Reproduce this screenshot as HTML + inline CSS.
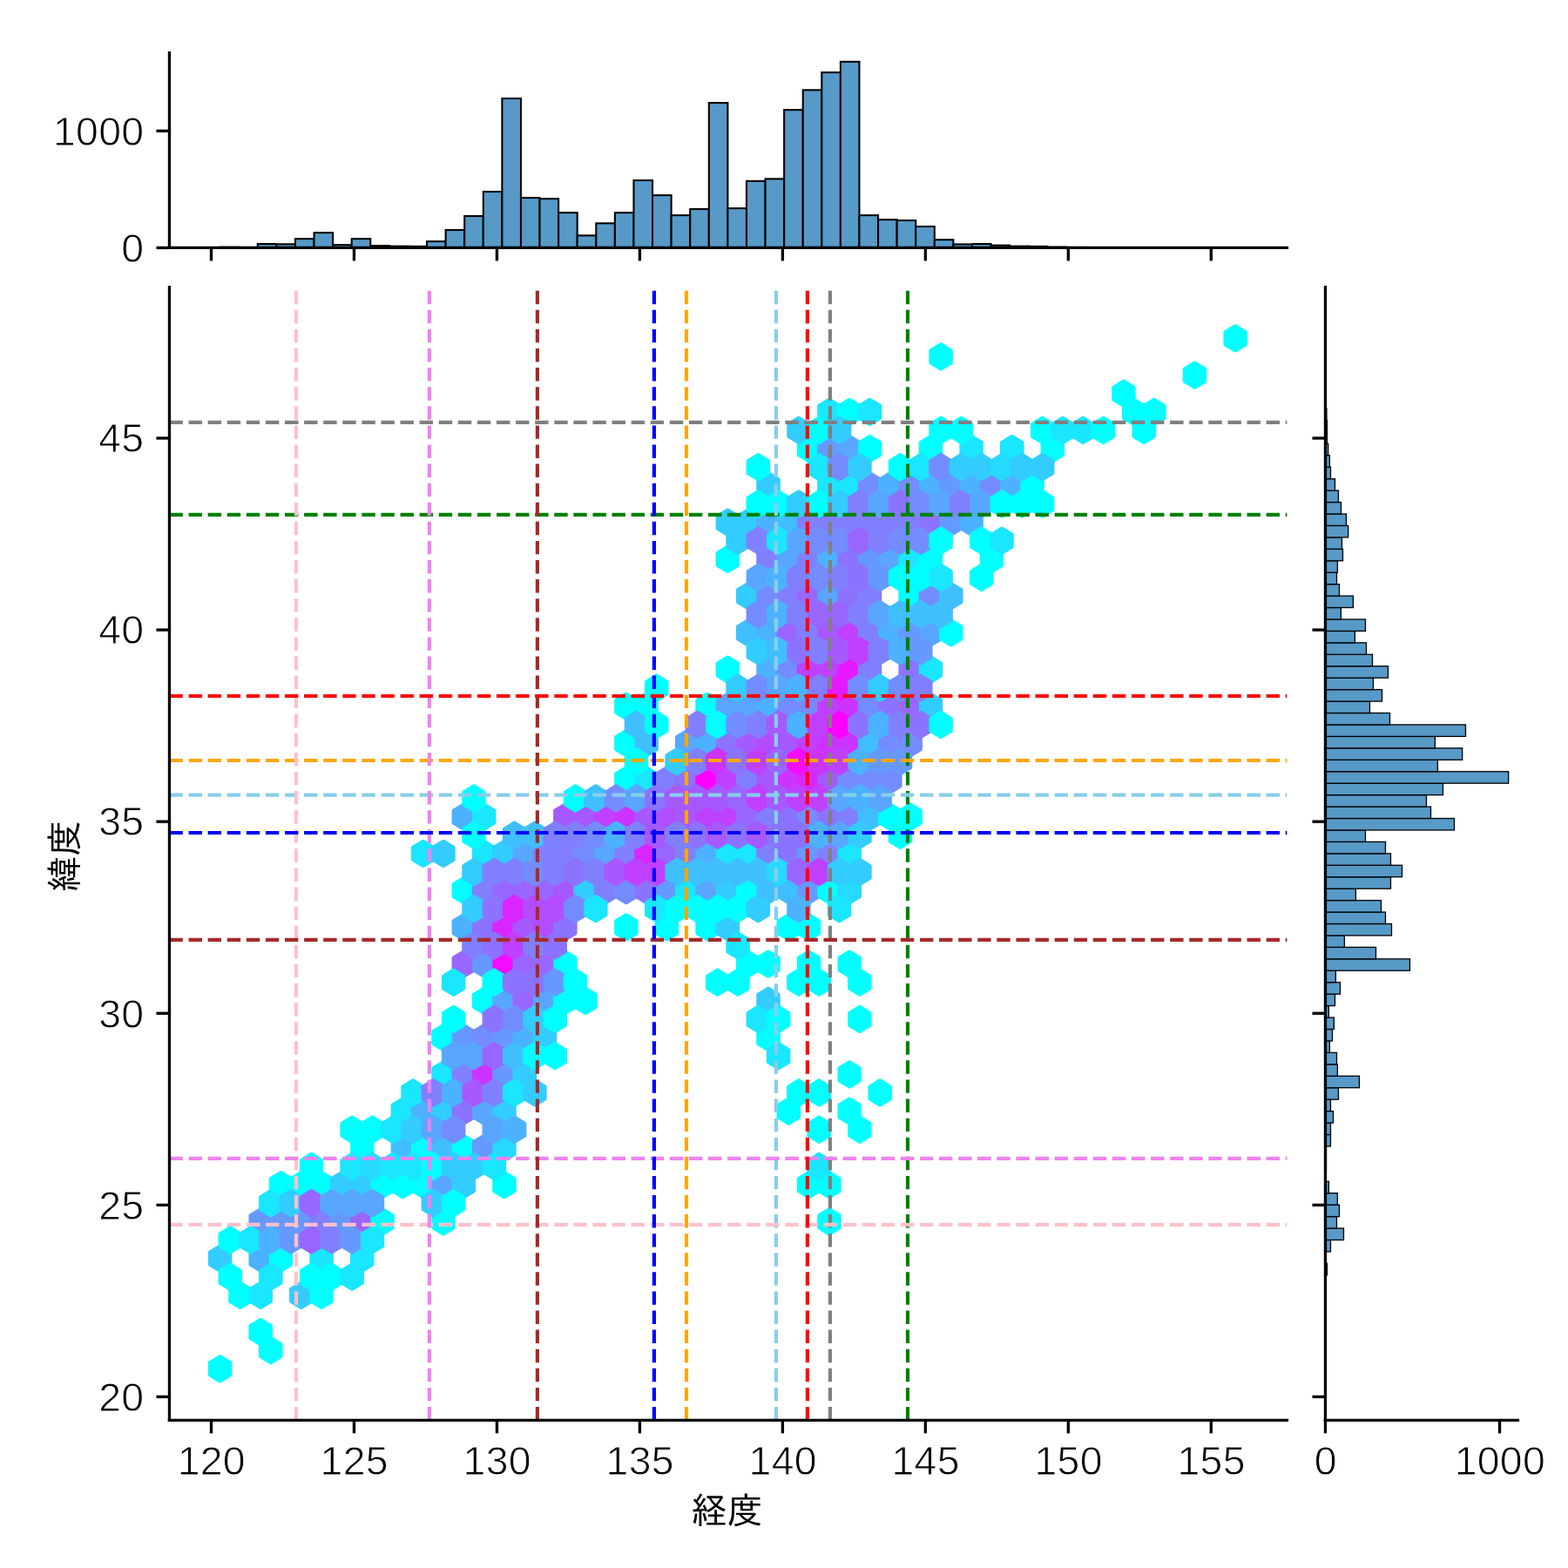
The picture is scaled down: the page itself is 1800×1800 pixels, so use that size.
<!DOCTYPE html>
<html lang="ja"><head><meta charset="utf-8"><title>経度 / 緯度</title>
<style>html,body{margin:0;padding:0;background:#fff;overflow:hidden}svg{display:block}</style></head>
<body>
<svg width="1800" height="1800" viewBox="0 0 1800 1800">
<rect width="1800" height="1800" fill="#ffffff"/>
<g stroke-width="4.17" stroke-linejoin="round">
<polygon points="264.27,1564.29 264.27,1578.37 252.61,1585.41 240.95,1578.37 240.95,1564.29 252.61,1557.25" fill="#00ffff" stroke="#00ffff"/>
<polygon points="264.27,1437.54 264.27,1451.62 252.61,1458.66 240.95,1451.62 240.95,1437.54 252.61,1430.50" fill="#33ccff" stroke="#33ccff"/>
<polygon points="287.58,1479.79 287.58,1493.87 275.92,1500.91 264.27,1493.87 264.27,1479.79 275.92,1472.75" fill="#00ffff" stroke="#00ffff"/>
<polygon points="310.89,1522.04 310.89,1536.12 299.23,1543.16 287.58,1536.12 287.58,1522.04 299.23,1515.00" fill="#00ffff" stroke="#00ffff"/>
<polygon points="310.89,1479.79 310.89,1493.87 299.23,1500.91 287.58,1493.87 287.58,1479.79 299.23,1472.75" fill="#1ae6ff" stroke="#1ae6ff"/>
<polygon points="310.89,1437.54 310.89,1451.62 299.23,1458.66 287.58,1451.62 287.58,1437.54 299.23,1430.50" fill="#4cb2ff" stroke="#4cb2ff"/>
<polygon points="310.89,1395.29 310.89,1409.37 299.23,1416.41 287.58,1409.37 287.58,1395.29 299.23,1388.25" fill="#6699ff" stroke="#6699ff"/>
<polygon points="334.20,1437.54 334.20,1451.62 322.54,1458.66 310.89,1451.62 310.89,1437.54 322.54,1430.50" fill="#00ffff" stroke="#00ffff"/>
<polygon points="334.20,1395.29 334.20,1409.37 322.54,1416.41 310.89,1409.37 310.89,1395.29 322.54,1388.25" fill="#6699ff" stroke="#6699ff"/>
<polygon points="334.20,1353.04 334.20,1367.12 322.54,1374.16 310.89,1367.12 310.89,1353.04 322.54,1346.00" fill="#00ffff" stroke="#00ffff"/>
<polygon points="357.51,1479.79 357.51,1493.87 345.85,1500.91 334.20,1493.87 334.20,1479.79 345.85,1472.75" fill="#33ccff" stroke="#33ccff"/>
<polygon points="357.51,1395.29 357.51,1409.37 345.85,1416.41 334.20,1409.37 334.20,1395.29 345.85,1388.25" fill="#6699ff" stroke="#6699ff"/>
<polygon points="357.51,1353.04 357.51,1367.12 345.85,1374.16 334.20,1367.12 334.20,1353.04 345.85,1346.00" fill="#00ffff" stroke="#00ffff"/>
<polygon points="380.82,1479.79 380.82,1493.87 369.17,1500.91 357.51,1493.87 357.51,1479.79 369.17,1472.75" fill="#00ffff" stroke="#00ffff"/>
<polygon points="380.82,1437.54 380.82,1451.62 369.17,1458.66 357.51,1451.62 357.51,1437.54 369.17,1430.50" fill="#1ae6ff" stroke="#1ae6ff"/>
<polygon points="380.82,1395.29 380.82,1409.37 369.17,1416.41 357.51,1409.37 357.51,1395.29 369.17,1388.25" fill="#8080ff" stroke="#8080ff"/>
<polygon points="380.82,1353.04 380.82,1367.12 369.17,1374.16 357.51,1367.12 357.51,1353.04 369.17,1346.00" fill="#00ffff" stroke="#00ffff"/>
<polygon points="404.13,1395.29 404.13,1409.37 392.48,1416.41 380.82,1409.37 380.82,1395.29 392.48,1388.25" fill="#6699ff" stroke="#6699ff"/>
<polygon points="404.13,1353.04 404.13,1367.12 392.48,1374.16 380.82,1367.12 380.82,1353.04 392.48,1346.00" fill="#33ccff" stroke="#33ccff"/>
<polygon points="427.44,1437.54 427.44,1451.62 415.79,1458.66 404.13,1451.62 404.13,1437.54 415.79,1430.50" fill="#1ae6ff" stroke="#1ae6ff"/>
<polygon points="427.44,1395.29 427.44,1409.37 415.79,1416.41 404.13,1409.37 404.13,1395.29 415.79,1388.25" fill="#9966ff" stroke="#9966ff"/>
<polygon points="427.44,1353.04 427.44,1367.12 415.79,1374.16 404.13,1367.12 404.13,1353.04 415.79,1346.00" fill="#33ccff" stroke="#33ccff"/>
<polygon points="427.44,1310.79 427.44,1324.87 415.79,1331.91 404.13,1324.87 404.13,1310.79 415.79,1303.75" fill="#00ffff" stroke="#00ffff"/>
<polygon points="450.76,1395.29 450.76,1409.37 439.10,1416.41 427.44,1409.37 427.44,1395.29 439.10,1388.25" fill="#00ffff" stroke="#00ffff"/>
<polygon points="450.76,1353.04 450.76,1367.12 439.10,1374.16 427.44,1367.12 427.44,1353.04 439.10,1346.00" fill="#00ffff" stroke="#00ffff"/>
<polygon points="474.07,1353.04 474.07,1367.12 462.41,1374.16 450.76,1367.12 450.76,1353.04 462.41,1346.00" fill="#00ffff" stroke="#00ffff"/>
<polygon points="474.07,1310.79 474.07,1324.87 462.41,1331.91 450.76,1324.87 450.76,1310.79 462.41,1303.75" fill="#40bfff" stroke="#40bfff"/>
<polygon points="474.07,1268.54 474.07,1282.62 462.41,1289.66 450.76,1282.62 450.76,1268.54 462.41,1261.50" fill="#1ae6ff" stroke="#1ae6ff"/>
<polygon points="497.38,1353.04 497.38,1367.12 485.72,1374.16 474.07,1367.12 474.07,1353.04 485.72,1346.00" fill="#00ffff" stroke="#00ffff"/>
<polygon points="497.38,1310.79 497.38,1324.87 485.72,1331.91 474.07,1324.87 474.07,1310.79 485.72,1303.75" fill="#00ffff" stroke="#00ffff"/>
<polygon points="497.38,1268.54 497.38,1282.62 485.72,1289.66 474.07,1282.62 474.07,1268.54 485.72,1261.50" fill="#4cb2ff" stroke="#4cb2ff"/>
<polygon points="497.38,972.79 497.38,986.87 485.72,993.91 474.07,986.87 474.07,972.79 485.72,965.75" fill="#1ae6ff" stroke="#1ae6ff"/>
<polygon points="520.69,1395.29 520.69,1409.37 509.03,1416.41 497.38,1409.37 497.38,1395.29 509.03,1388.25" fill="#00ffff" stroke="#00ffff"/>
<polygon points="520.69,1353.04 520.69,1367.12 509.03,1374.16 497.38,1367.12 497.38,1353.04 509.03,1346.00" fill="#59a6ff" stroke="#59a6ff"/>
<polygon points="520.69,1310.79 520.69,1324.87 509.03,1331.91 497.38,1324.87 497.38,1310.79 509.03,1303.75" fill="#40bfff" stroke="#40bfff"/>
<polygon points="520.69,1268.54 520.69,1282.62 509.03,1289.66 497.38,1282.62 497.38,1268.54 509.03,1261.50" fill="#33ccff" stroke="#33ccff"/>
<polygon points="520.69,1226.29 520.69,1240.37 509.03,1247.41 497.38,1240.37 497.38,1226.29 509.03,1219.25" fill="#1ae6ff" stroke="#1ae6ff"/>
<polygon points="520.69,1184.04 520.69,1198.12 509.03,1205.16 497.38,1198.12 497.38,1184.04 509.03,1177.00" fill="#00ffff" stroke="#00ffff"/>
<polygon points="520.69,972.79 520.69,986.87 509.03,993.91 497.38,986.87 497.38,972.79 509.03,965.75" fill="#33ccff" stroke="#33ccff"/>
<polygon points="544.00,1353.04 544.00,1367.12 532.34,1374.16 520.69,1367.12 520.69,1353.04 532.34,1346.00" fill="#33ccff" stroke="#33ccff"/>
<polygon points="544.00,1310.79 544.00,1324.87 532.34,1331.91 520.69,1324.87 520.69,1310.79 532.34,1303.75" fill="#00ffff" stroke="#00ffff"/>
<polygon points="544.00,1268.54 544.00,1282.62 532.34,1289.66 520.69,1282.62 520.69,1268.54 532.34,1261.50" fill="#8c73ff" stroke="#8c73ff"/>
<polygon points="544.00,1226.29 544.00,1240.37 532.34,1247.41 520.69,1240.37 520.69,1226.29 532.34,1219.25" fill="#8080ff" stroke="#8080ff"/>
<polygon points="544.00,1184.04 544.00,1198.12 532.34,1205.16 520.69,1198.12 520.69,1184.04 532.34,1177.00" fill="#6699ff" stroke="#6699ff"/>
<polygon points="544.00,1099.54 544.00,1113.62 532.34,1120.66 520.69,1113.62 520.69,1099.54 532.34,1092.50" fill="#9966ff" stroke="#9966ff"/>
<polygon points="544.00,1057.29 544.00,1071.37 532.34,1078.41 520.69,1071.37 520.69,1057.29 532.34,1050.25" fill="#4cb2ff" stroke="#4cb2ff"/>
<polygon points="544.00,1015.04 544.00,1029.12 532.34,1036.16 520.69,1029.12 520.69,1015.04 532.34,1008.00" fill="#00ffff" stroke="#00ffff"/>
<polygon points="544.00,930.54 544.00,944.62 532.34,951.66 520.69,944.62 520.69,930.54 532.34,923.50" fill="#4cb2ff" stroke="#4cb2ff"/>
<polygon points="567.31,1310.79 567.31,1324.87 555.66,1331.91 544.00,1324.87 544.00,1310.79 555.66,1303.75" fill="#6699ff" stroke="#6699ff"/>
<polygon points="567.31,1268.54 567.31,1282.62 555.66,1289.66 544.00,1282.62 544.00,1268.54 555.66,1261.50" fill="#59a6ff" stroke="#59a6ff"/>
<polygon points="567.31,1226.29 567.31,1240.37 555.66,1247.41 544.00,1240.37 544.00,1226.29 555.66,1219.25" fill="#cc33ff" stroke="#cc33ff"/>
<polygon points="567.31,1184.04 567.31,1198.12 555.66,1205.16 544.00,1198.12 544.00,1184.04 555.66,1177.00" fill="#738cff" stroke="#738cff"/>
<polygon points="567.31,1141.79 567.31,1155.87 555.66,1162.91 544.00,1155.87 544.00,1141.79 555.66,1134.75" fill="#00ffff" stroke="#00ffff"/>
<polygon points="567.31,1099.54 567.31,1113.62 555.66,1120.66 544.00,1113.62 544.00,1099.54 555.66,1092.50" fill="#6699ff" stroke="#6699ff"/>
<polygon points="567.31,1057.29 567.31,1071.37 555.66,1078.41 544.00,1071.37 544.00,1057.29 555.66,1050.25" fill="#8c73ff" stroke="#8c73ff"/>
<polygon points="567.31,1015.04 567.31,1029.12 555.66,1036.16 544.00,1029.12 544.00,1015.04 555.66,1008.00" fill="#8080ff" stroke="#8080ff"/>
<polygon points="567.31,972.79 567.31,986.87 555.66,993.91 544.00,986.87 544.00,972.79 555.66,965.75" fill="#1ae6ff" stroke="#1ae6ff"/>
<polygon points="567.31,930.54 567.31,944.62 555.66,951.66 544.00,944.62 544.00,930.54 555.66,923.50" fill="#1ae6ff" stroke="#1ae6ff"/>
<polygon points="590.62,1353.04 590.62,1367.12 578.97,1374.16 567.31,1367.12 567.31,1353.04 578.97,1346.00" fill="#00ffff" stroke="#00ffff"/>
<polygon points="590.62,1310.79 590.62,1324.87 578.97,1331.91 567.31,1324.87 567.31,1310.79 578.97,1303.75" fill="#26d9ff" stroke="#26d9ff"/>
<polygon points="590.62,1268.54 590.62,1282.62 578.97,1289.66 567.31,1282.62 567.31,1268.54 578.97,1261.50" fill="#33ccff" stroke="#33ccff"/>
<polygon points="590.62,1226.29 590.62,1240.37 578.97,1247.41 567.31,1240.37 567.31,1226.29 578.97,1219.25" fill="#6699ff" stroke="#6699ff"/>
<polygon points="590.62,1184.04 590.62,1198.12 578.97,1205.16 567.31,1198.12 567.31,1184.04 578.97,1177.00" fill="#6699ff" stroke="#6699ff"/>
<polygon points="590.62,1141.79 590.62,1155.87 578.97,1162.91 567.31,1155.87 567.31,1141.79 578.97,1134.75" fill="#59a6ff" stroke="#59a6ff"/>
<polygon points="590.62,1099.54 590.62,1113.62 578.97,1120.66 567.31,1113.62 567.31,1099.54 578.97,1092.50" fill="#f20dff" stroke="#f20dff"/>
<polygon points="590.62,1057.29 590.62,1071.37 578.97,1078.41 567.31,1071.37 567.31,1057.29 578.97,1050.25" fill="#d926ff" stroke="#d926ff"/>
<polygon points="590.62,1015.04 590.62,1029.12 578.97,1036.16 567.31,1029.12 567.31,1015.04 578.97,1008.00" fill="#9966ff" stroke="#9966ff"/>
<polygon points="590.62,972.79 590.62,986.87 578.97,993.91 567.31,986.87 567.31,972.79 578.97,965.75" fill="#33ccff" stroke="#33ccff"/>
<polygon points="613.93,1226.29 613.93,1240.37 602.28,1247.41 590.62,1240.37 590.62,1226.29 602.28,1219.25" fill="#33ccff" stroke="#33ccff"/>
<polygon points="613.93,1184.04 613.93,1198.12 602.28,1205.16 590.62,1198.12 590.62,1184.04 602.28,1177.00" fill="#4cb2ff" stroke="#4cb2ff"/>
<polygon points="613.93,1141.79 613.93,1155.87 602.28,1162.91 590.62,1155.87 590.62,1141.79 602.28,1134.75" fill="#9966ff" stroke="#9966ff"/>
<polygon points="613.93,1099.54 613.93,1113.62 602.28,1120.66 590.62,1113.62 590.62,1099.54 602.28,1092.50" fill="#9966ff" stroke="#9966ff"/>
<polygon points="613.93,1057.29 613.93,1071.37 602.28,1078.41 590.62,1071.37 590.62,1057.29 602.28,1050.25" fill="#a659ff" stroke="#a659ff"/>
<polygon points="613.93,1015.04 613.93,1029.12 602.28,1036.16 590.62,1029.12 590.62,1015.04 602.28,1008.00" fill="#9966ff" stroke="#9966ff"/>
<polygon points="613.93,972.79 613.93,986.87 602.28,993.91 590.62,986.87 590.62,972.79 602.28,965.75" fill="#59a6ff" stroke="#59a6ff"/>
<polygon points="637.24,1184.04 637.24,1198.12 625.59,1205.16 613.93,1198.12 613.93,1184.04 625.59,1177.00" fill="#33ccff" stroke="#33ccff"/>
<polygon points="637.24,1141.79 637.24,1155.87 625.59,1162.91 613.93,1155.87 613.93,1141.79 625.59,1134.75" fill="#59a6ff" stroke="#59a6ff"/>
<polygon points="637.24,1099.54 637.24,1113.62 625.59,1120.66 613.93,1113.62 613.93,1099.54 625.59,1092.50" fill="#9966ff" stroke="#9966ff"/>
<polygon points="637.24,1057.29 637.24,1071.37 625.59,1078.41 613.93,1071.37 613.93,1057.29 625.59,1050.25" fill="#b24dff" stroke="#b24dff"/>
<polygon points="637.24,1015.04 637.24,1029.12 625.59,1036.16 613.93,1029.12 613.93,1015.04 625.59,1008.00" fill="#9966ff" stroke="#9966ff"/>
<polygon points="637.24,972.79 637.24,986.87 625.59,993.91 613.93,986.87 613.93,972.79 625.59,965.75" fill="#8080ff" stroke="#8080ff"/>
<polygon points="660.56,1141.79 660.56,1155.87 648.90,1162.91 637.24,1155.87 637.24,1141.79 648.90,1134.75" fill="#00ffff" stroke="#00ffff"/>
<polygon points="660.56,1099.54 660.56,1113.62 648.90,1120.66 637.24,1113.62 637.24,1099.54 648.90,1092.50" fill="#00ffff" stroke="#00ffff"/>
<polygon points="660.56,1057.29 660.56,1071.37 648.90,1078.41 637.24,1071.37 637.24,1057.29 648.90,1050.25" fill="#8c73ff" stroke="#8c73ff"/>
<polygon points="660.56,1015.04 660.56,1029.12 648.90,1036.16 637.24,1029.12 637.24,1015.04 648.90,1008.00" fill="#a659ff" stroke="#a659ff"/>
<polygon points="660.56,972.79 660.56,986.87 648.90,993.91 637.24,986.87 637.24,972.79 648.90,965.75" fill="#8080ff" stroke="#8080ff"/>
<polygon points="660.56,930.54 660.56,944.62 648.90,951.66 637.24,944.62 637.24,930.54 648.90,923.50" fill="#a659ff" stroke="#a659ff"/>
<polygon points="683.87,1141.79 683.87,1155.87 672.21,1162.91 660.56,1155.87 660.56,1141.79 672.21,1134.75" fill="#00ffff" stroke="#00ffff"/>
<polygon points="683.87,1015.04 683.87,1029.12 672.21,1036.16 660.56,1029.12 660.56,1015.04 672.21,1008.00" fill="#33ccff" stroke="#33ccff"/>
<polygon points="683.87,972.79 683.87,986.87 672.21,993.91 660.56,986.87 660.56,972.79 672.21,965.75" fill="#738cff" stroke="#738cff"/>
<polygon points="683.87,930.54 683.87,944.62 672.21,951.66 660.56,944.62 660.56,930.54 672.21,923.50" fill="#a659ff" stroke="#a659ff"/>
<polygon points="707.18,1015.04 707.18,1029.12 695.52,1036.16 683.87,1029.12 683.87,1015.04 695.52,1008.00" fill="#8080ff" stroke="#8080ff"/>
<polygon points="707.18,972.79 707.18,986.87 695.52,993.91 683.87,986.87 683.87,972.79 695.52,965.75" fill="#59a6ff" stroke="#59a6ff"/>
<polygon points="707.18,930.54 707.18,944.62 695.52,951.66 683.87,944.62 683.87,930.54 695.52,923.50" fill="#bf40ff" stroke="#bf40ff"/>
<polygon points="730.49,1057.29 730.49,1071.37 718.83,1078.41 707.18,1071.37 707.18,1057.29 718.83,1050.25" fill="#00ffff" stroke="#00ffff"/>
<polygon points="730.49,1015.04 730.49,1029.12 718.83,1036.16 707.18,1029.12 707.18,1015.04 718.83,1008.00" fill="#738cff" stroke="#738cff"/>
<polygon points="730.49,972.79 730.49,986.87 718.83,993.91 707.18,986.87 707.18,972.79 718.83,965.75" fill="#8080ff" stroke="#8080ff"/>
<polygon points="730.49,930.54 730.49,944.62 718.83,951.66 707.18,944.62 707.18,930.54 718.83,923.50" fill="#cc33ff" stroke="#cc33ff"/>
<polygon points="730.49,888.29 730.49,902.37 718.83,909.41 707.18,902.37 707.18,888.29 718.83,881.25" fill="#00ffff" stroke="#00ffff"/>
<polygon points="730.49,846.04 730.49,860.12 718.83,867.16 707.18,860.12 707.18,846.04 718.83,839.00" fill="#00ffff" stroke="#00ffff"/>
<polygon points="730.49,803.79 730.49,817.87 718.83,824.91 707.18,817.87 707.18,803.79 718.83,796.75" fill="#00ffff" stroke="#00ffff"/>
<polygon points="753.80,1015.04 753.80,1029.12 742.15,1036.16 730.49,1029.12 730.49,1015.04 742.15,1008.00" fill="#8c73ff" stroke="#8c73ff"/>
<polygon points="753.80,972.79 753.80,986.87 742.15,993.91 730.49,986.87 730.49,972.79 742.15,965.75" fill="#d926ff" stroke="#d926ff"/>
<polygon points="753.80,930.54 753.80,944.62 742.15,951.66 730.49,944.62 730.49,930.54 742.15,923.50" fill="#a659ff" stroke="#a659ff"/>
<polygon points="753.80,888.29 753.80,902.37 742.15,909.41 730.49,902.37 730.49,888.29 742.15,881.25" fill="#1ae6ff" stroke="#1ae6ff"/>
<polygon points="753.80,846.04 753.80,860.12 742.15,867.16 730.49,860.12 730.49,846.04 742.15,839.00" fill="#40bfff" stroke="#40bfff"/>
<polygon points="753.80,803.79 753.80,817.87 742.15,824.91 730.49,817.87 730.49,803.79 742.15,796.75" fill="#00ffff" stroke="#00ffff"/>
<polygon points="777.11,1057.29 777.11,1071.37 765.46,1078.41 753.80,1071.37 753.80,1057.29 765.46,1050.25" fill="#00ffff" stroke="#00ffff"/>
<polygon points="777.11,1015.04 777.11,1029.12 765.46,1036.16 753.80,1029.12 753.80,1015.04 765.46,1008.00" fill="#6699ff" stroke="#6699ff"/>
<polygon points="777.11,972.79 777.11,986.87 765.46,993.91 753.80,986.87 753.80,972.79 765.46,965.75" fill="#9966ff" stroke="#9966ff"/>
<polygon points="777.11,930.54 777.11,944.62 765.46,951.66 753.80,944.62 753.80,930.54 765.46,923.50" fill="#b24dff" stroke="#b24dff"/>
<polygon points="777.11,888.29 777.11,902.37 765.46,909.41 753.80,902.37 753.80,888.29 765.46,881.25" fill="#8080ff" stroke="#8080ff"/>
<polygon points="800.42,1015.04 800.42,1029.12 788.77,1036.16 777.11,1029.12 777.11,1015.04 788.77,1008.00" fill="#1ae6ff" stroke="#1ae6ff"/>
<polygon points="800.42,972.79 800.42,986.87 788.77,993.91 777.11,986.87 777.11,972.79 788.77,965.75" fill="#8080ff" stroke="#8080ff"/>
<polygon points="800.42,930.54 800.42,944.62 788.77,951.66 777.11,944.62 777.11,930.54 788.77,923.50" fill="#a659ff" stroke="#a659ff"/>
<polygon points="800.42,888.29 800.42,902.37 788.77,909.41 777.11,902.37 777.11,888.29 788.77,881.25" fill="#8c73ff" stroke="#8c73ff"/>
<polygon points="800.42,846.04 800.42,860.12 788.77,867.16 777.11,860.12 777.11,846.04 788.77,839.00" fill="#59a6ff" stroke="#59a6ff"/>
<polygon points="823.73,1057.29 823.73,1071.37 812.08,1078.41 800.42,1071.37 800.42,1057.29 812.08,1050.25" fill="#00ffff" stroke="#00ffff"/>
<polygon points="823.73,1015.04 823.73,1029.12 812.08,1036.16 800.42,1029.12 800.42,1015.04 812.08,1008.00" fill="#59a6ff" stroke="#59a6ff"/>
<polygon points="823.73,972.79 823.73,986.87 812.08,993.91 800.42,986.87 800.42,972.79 812.08,965.75" fill="#4cb2ff" stroke="#4cb2ff"/>
<polygon points="823.73,930.54 823.73,944.62 812.08,951.66 800.42,944.62 800.42,930.54 812.08,923.50" fill="#bf40ff" stroke="#bf40ff"/>
<polygon points="823.73,888.29 823.73,902.37 812.08,909.41 800.42,902.37 800.42,888.29 812.08,881.25" fill="#ff00ff" stroke="#ff00ff"/>
<polygon points="823.73,846.04 823.73,860.12 812.08,867.16 800.42,860.12 800.42,846.04 812.08,839.00" fill="#4cb2ff" stroke="#4cb2ff"/>
<polygon points="823.73,803.79 823.73,817.87 812.08,824.91 800.42,817.87 800.42,803.79 812.08,796.75" fill="#00ffff" stroke="#00ffff"/>
<polygon points="847.05,1057.29 847.05,1071.37 835.39,1078.41 823.73,1071.37 823.73,1057.29 835.39,1050.25" fill="#33ccff" stroke="#33ccff"/>
<polygon points="847.05,1015.04 847.05,1029.12 835.39,1036.16 823.73,1029.12 823.73,1015.04 835.39,1008.00" fill="#33ccff" stroke="#33ccff"/>
<polygon points="847.05,972.79 847.05,986.87 835.39,993.91 823.73,986.87 823.73,972.79 835.39,965.75" fill="#1ae6ff" stroke="#1ae6ff"/>
<polygon points="847.05,930.54 847.05,944.62 835.39,951.66 823.73,944.62 823.73,930.54 835.39,923.50" fill="#bf40ff" stroke="#bf40ff"/>
<polygon points="847.05,888.29 847.05,902.37 835.39,909.41 823.73,902.37 823.73,888.29 835.39,881.25" fill="#bf40ff" stroke="#bf40ff"/>
<polygon points="847.05,846.04 847.05,860.12 835.39,867.16 823.73,860.12 823.73,846.04 835.39,839.00" fill="#8c73ff" stroke="#8c73ff"/>
<polygon points="847.05,803.79 847.05,817.87 835.39,824.91 823.73,817.87 823.73,803.79 835.39,796.75" fill="#59a6ff" stroke="#59a6ff"/>
<polygon points="847.05,761.54 847.05,775.62 835.39,782.66 823.73,775.62 823.73,761.54 835.39,754.50" fill="#00ffff" stroke="#00ffff"/>
<polygon points="847.05,634.79 847.05,648.87 835.39,655.91 823.73,648.87 823.73,634.79 835.39,627.75" fill="#00ffff" stroke="#00ffff"/>
<polygon points="847.05,592.54 847.05,606.62 835.39,613.66 823.73,606.62 823.73,592.54 835.39,585.50" fill="#33ccff" stroke="#33ccff"/>
<polygon points="870.36,1099.54 870.36,1113.62 858.70,1120.66 847.05,1113.62 847.05,1099.54 858.70,1092.50" fill="#00ffff" stroke="#00ffff"/>
<polygon points="870.36,1015.04 870.36,1029.12 858.70,1036.16 847.05,1029.12 847.05,1015.04 858.70,1008.00" fill="#00ffff" stroke="#00ffff"/>
<polygon points="870.36,972.79 870.36,986.87 858.70,993.91 847.05,986.87 847.05,972.79 858.70,965.75" fill="#1ae6ff" stroke="#1ae6ff"/>
<polygon points="870.36,930.54 870.36,944.62 858.70,951.66 847.05,944.62 847.05,930.54 858.70,923.50" fill="#9966ff" stroke="#9966ff"/>
<polygon points="870.36,888.29 870.36,902.37 858.70,909.41 847.05,902.37 847.05,888.29 858.70,881.25" fill="#8080ff" stroke="#8080ff"/>
<polygon points="870.36,846.04 870.36,860.12 858.70,867.16 847.05,860.12 847.05,846.04 858.70,839.00" fill="#a659ff" stroke="#a659ff"/>
<polygon points="870.36,803.79 870.36,817.87 858.70,824.91 847.05,817.87 847.05,803.79 858.70,796.75" fill="#59a6ff" stroke="#59a6ff"/>
<polygon points="870.36,719.29 870.36,733.37 858.70,740.41 847.05,733.37 847.05,719.29 858.70,712.25" fill="#40bfff" stroke="#40bfff"/>
<polygon points="870.36,677.04 870.36,691.12 858.70,698.16 847.05,691.12 847.05,677.04 858.70,670.00" fill="#33ccff" stroke="#33ccff"/>
<polygon points="870.36,592.54 870.36,606.62 858.70,613.66 847.05,606.62 847.05,592.54 858.70,585.50" fill="#33ccff" stroke="#33ccff"/>
<polygon points="893.67,1184.04 893.67,1198.12 882.01,1205.16 870.36,1198.12 870.36,1184.04 882.01,1177.00" fill="#00ffff" stroke="#00ffff"/>
<polygon points="893.67,1141.79 893.67,1155.87 882.01,1162.91 870.36,1155.87 870.36,1141.79 882.01,1134.75" fill="#33ccff" stroke="#33ccff"/>
<polygon points="893.67,1099.54 893.67,1113.62 882.01,1120.66 870.36,1113.62 870.36,1099.54 882.01,1092.50" fill="#00ffff" stroke="#00ffff"/>
<polygon points="893.67,1015.04 893.67,1029.12 882.01,1036.16 870.36,1029.12 870.36,1015.04 882.01,1008.00" fill="#40bfff" stroke="#40bfff"/>
<polygon points="893.67,972.79 893.67,986.87 882.01,993.91 870.36,986.87 870.36,972.79 882.01,965.75" fill="#8080ff" stroke="#8080ff"/>
<polygon points="893.67,930.54 893.67,944.62 882.01,951.66 870.36,944.62 870.36,930.54 882.01,923.50" fill="#8080ff" stroke="#8080ff"/>
<polygon points="893.67,888.29 893.67,902.37 882.01,909.41 870.36,902.37 870.36,888.29 882.01,881.25" fill="#a659ff" stroke="#a659ff"/>
<polygon points="893.67,846.04 893.67,860.12 882.01,867.16 870.36,860.12 870.36,846.04 882.01,839.00" fill="#b24dff" stroke="#b24dff"/>
<polygon points="893.67,803.79 893.67,817.87 882.01,824.91 870.36,817.87 870.36,803.79 882.01,796.75" fill="#4cb2ff" stroke="#4cb2ff"/>
<polygon points="893.67,761.54 893.67,775.62 882.01,782.66 870.36,775.62 870.36,761.54 882.01,754.50" fill="#4cb2ff" stroke="#4cb2ff"/>
<polygon points="893.67,719.29 893.67,733.37 882.01,740.41 870.36,733.37 870.36,719.29 882.01,712.25" fill="#4cb2ff" stroke="#4cb2ff"/>
<polygon points="893.67,677.04 893.67,691.12 882.01,698.16 870.36,691.12 870.36,677.04 882.01,670.00" fill="#738cff" stroke="#738cff"/>
<polygon points="893.67,634.79 893.67,648.87 882.01,655.91 870.36,648.87 870.36,634.79 882.01,627.75" fill="#8080ff" stroke="#8080ff"/>
<polygon points="893.67,592.54 893.67,606.62 882.01,613.66 870.36,606.62 870.36,592.54 882.01,585.50" fill="#4cb2ff" stroke="#4cb2ff"/>
<polygon points="893.67,550.29 893.67,564.37 882.01,571.41 870.36,564.37 870.36,550.29 882.01,543.25" fill="#33ccff" stroke="#33ccff"/>
<polygon points="916.98,1268.54 916.98,1282.62 905.32,1289.66 893.67,1282.62 893.67,1268.54 905.32,1261.50" fill="#00ffff" stroke="#00ffff"/>
<polygon points="916.98,1057.29 916.98,1071.37 905.32,1078.41 893.67,1071.37 893.67,1057.29 905.32,1050.25" fill="#00ffff" stroke="#00ffff"/>
<polygon points="916.98,1015.04 916.98,1029.12 905.32,1036.16 893.67,1029.12 893.67,1015.04 905.32,1008.00" fill="#40bfff" stroke="#40bfff"/>
<polygon points="916.98,972.79 916.98,986.87 905.32,993.91 893.67,986.87 893.67,972.79 905.32,965.75" fill="#8c73ff" stroke="#8c73ff"/>
<polygon points="916.98,930.54 916.98,944.62 905.32,951.66 893.67,944.62 893.67,930.54 905.32,923.50" fill="#8c73ff" stroke="#8c73ff"/>
<polygon points="916.98,888.29 916.98,902.37 905.32,909.41 893.67,902.37 893.67,888.29 905.32,881.25" fill="#cc33ff" stroke="#cc33ff"/>
<polygon points="916.98,846.04 916.98,860.12 905.32,867.16 893.67,860.12 893.67,846.04 905.32,839.00" fill="#a659ff" stroke="#a659ff"/>
<polygon points="916.98,803.79 916.98,817.87 905.32,824.91 893.67,817.87 893.67,803.79 905.32,796.75" fill="#738cff" stroke="#738cff"/>
<polygon points="916.98,761.54 916.98,775.62 905.32,782.66 893.67,775.62 893.67,761.54 905.32,754.50" fill="#738cff" stroke="#738cff"/>
<polygon points="916.98,719.29 916.98,733.37 905.32,740.41 893.67,733.37 893.67,719.29 905.32,712.25" fill="#9966ff" stroke="#9966ff"/>
<polygon points="916.98,677.04 916.98,691.12 905.32,698.16 893.67,691.12 893.67,677.04 905.32,670.00" fill="#8080ff" stroke="#8080ff"/>
<polygon points="916.98,634.79 916.98,648.87 905.32,655.91 893.67,648.87 893.67,634.79 905.32,627.75" fill="#59a6ff" stroke="#59a6ff"/>
<polygon points="916.98,592.54 916.98,606.62 905.32,613.66 893.67,606.62 893.67,592.54 905.32,585.50" fill="#40bfff" stroke="#40bfff"/>
<polygon points="940.29,1353.04 940.29,1367.12 928.63,1374.16 916.98,1367.12 916.98,1353.04 928.63,1346.00" fill="#00ffff" stroke="#00ffff"/>
<polygon points="940.29,1099.54 940.29,1113.62 928.63,1120.66 916.98,1113.62 916.98,1099.54 928.63,1092.50" fill="#00ffff" stroke="#00ffff"/>
<polygon points="940.29,1057.29 940.29,1071.37 928.63,1078.41 916.98,1071.37 916.98,1057.29 928.63,1050.25" fill="#00ffff" stroke="#00ffff"/>
<polygon points="940.29,1015.04 940.29,1029.12 928.63,1036.16 916.98,1029.12 916.98,1015.04 928.63,1008.00" fill="#6699ff" stroke="#6699ff"/>
<polygon points="940.29,972.79 940.29,986.87 928.63,993.91 916.98,986.87 916.98,972.79 928.63,965.75" fill="#6699ff" stroke="#6699ff"/>
<polygon points="940.29,930.54 940.29,944.62 928.63,951.66 916.98,944.62 916.98,930.54 928.63,923.50" fill="#738cff" stroke="#738cff"/>
<polygon points="940.29,888.29 940.29,902.37 928.63,909.41 916.98,902.37 916.98,888.29 928.63,881.25" fill="#d926ff" stroke="#d926ff"/>
<polygon points="940.29,846.04 940.29,860.12 928.63,867.16 916.98,860.12 916.98,846.04 928.63,839.00" fill="#bf40ff" stroke="#bf40ff"/>
<polygon points="940.29,803.79 940.29,817.87 928.63,824.91 916.98,817.87 916.98,803.79 928.63,796.75" fill="#738cff" stroke="#738cff"/>
<polygon points="940.29,761.54 940.29,775.62 928.63,782.66 916.98,775.62 916.98,761.54 928.63,754.50" fill="#bf40ff" stroke="#bf40ff"/>
<polygon points="940.29,719.29 940.29,733.37 928.63,740.41 916.98,733.37 916.98,719.29 928.63,712.25" fill="#8080ff" stroke="#8080ff"/>
<polygon points="940.29,677.04 940.29,691.12 928.63,698.16 916.98,691.12 916.98,677.04 928.63,670.00" fill="#9966ff" stroke="#9966ff"/>
<polygon points="940.29,634.79 940.29,648.87 928.63,655.91 916.98,648.87 916.98,634.79 928.63,627.75" fill="#8080ff" stroke="#8080ff"/>
<polygon points="940.29,592.54 940.29,606.62 928.63,613.66 916.98,606.62 916.98,592.54 928.63,585.50" fill="#8080ff" stroke="#8080ff"/>
<polygon points="940.29,508.04 940.29,522.12 928.63,529.16 916.98,522.12 916.98,508.04 928.63,501.00" fill="#00ffff" stroke="#00ffff"/>
<polygon points="963.60,1395.29 963.60,1409.37 951.95,1416.41 940.29,1409.37 940.29,1395.29 951.95,1388.25" fill="#00ffff" stroke="#00ffff"/>
<polygon points="963.60,1353.04 963.60,1367.12 951.95,1374.16 940.29,1367.12 940.29,1353.04 951.95,1346.00" fill="#00ffff" stroke="#00ffff"/>
<polygon points="963.60,1015.04 963.60,1029.12 951.95,1036.16 940.29,1029.12 940.29,1015.04 951.95,1008.00" fill="#00ffff" stroke="#00ffff"/>
<polygon points="963.60,972.79 963.60,986.87 951.95,993.91 940.29,986.87 940.29,972.79 951.95,965.75" fill="#8080ff" stroke="#8080ff"/>
<polygon points="963.60,930.54 963.60,944.62 951.95,951.66 940.29,944.62 940.29,930.54 951.95,923.50" fill="#8c73ff" stroke="#8c73ff"/>
<polygon points="963.60,888.29 963.60,902.37 951.95,909.41 940.29,902.37 940.29,888.29 951.95,881.25" fill="#a659ff" stroke="#a659ff"/>
<polygon points="963.60,846.04 963.60,860.12 951.95,867.16 940.29,860.12 940.29,846.04 951.95,839.00" fill="#cc33ff" stroke="#cc33ff"/>
<polygon points="963.60,803.79 963.60,817.87 951.95,824.91 940.29,817.87 940.29,803.79 951.95,796.75" fill="#bf40ff" stroke="#bf40ff"/>
<polygon points="963.60,761.54 963.60,775.62 951.95,782.66 940.29,775.62 940.29,761.54 951.95,754.50" fill="#bf40ff" stroke="#bf40ff"/>
<polygon points="963.60,719.29 963.60,733.37 951.95,740.41 940.29,733.37 940.29,719.29 951.95,712.25" fill="#a659ff" stroke="#a659ff"/>
<polygon points="963.60,677.04 963.60,691.12 951.95,698.16 940.29,691.12 940.29,677.04 951.95,670.00" fill="#59a6ff" stroke="#59a6ff"/>
<polygon points="963.60,634.79 963.60,648.87 951.95,655.91 940.29,648.87 940.29,634.79 951.95,627.75" fill="#4cb2ff" stroke="#4cb2ff"/>
<polygon points="963.60,592.54 963.60,606.62 951.95,613.66 940.29,606.62 940.29,592.54 951.95,585.50" fill="#8080ff" stroke="#8080ff"/>
<polygon points="963.60,550.29 963.60,564.37 951.95,571.41 940.29,564.37 940.29,550.29 951.95,543.25" fill="#1ae6ff" stroke="#1ae6ff"/>
<polygon points="963.60,508.04 963.60,522.12 951.95,529.16 940.29,522.12 940.29,508.04 951.95,501.00" fill="#6699ff" stroke="#6699ff"/>
<polygon points="963.60,465.79 963.60,479.87 951.95,486.91 940.29,479.87 940.29,465.79 951.95,458.75" fill="#1ae6ff" stroke="#1ae6ff"/>
<polygon points="986.91,1268.54 986.91,1282.62 975.26,1289.66 963.60,1282.62 963.60,1268.54 975.26,1261.50" fill="#00ffff" stroke="#00ffff"/>
<polygon points="986.91,1226.29 986.91,1240.37 975.26,1247.41 963.60,1240.37 963.60,1226.29 975.26,1219.25" fill="#00ffff" stroke="#00ffff"/>
<polygon points="986.91,1099.54 986.91,1113.62 975.26,1120.66 963.60,1113.62 963.60,1099.54 975.26,1092.50" fill="#00ffff" stroke="#00ffff"/>
<polygon points="986.91,1015.04 986.91,1029.12 975.26,1036.16 963.60,1029.12 963.60,1015.04 975.26,1008.00" fill="#26d9ff" stroke="#26d9ff"/>
<polygon points="986.91,972.79 986.91,986.87 975.26,993.91 963.60,986.87 963.60,972.79 975.26,965.75" fill="#1ae6ff" stroke="#1ae6ff"/>
<polygon points="986.91,930.54 986.91,944.62 975.26,951.66 963.60,944.62 963.60,930.54 975.26,923.50" fill="#8080ff" stroke="#8080ff"/>
<polygon points="986.91,888.29 986.91,902.37 975.26,909.41 963.60,902.37 963.60,888.29 975.26,881.25" fill="#738cff" stroke="#738cff"/>
<polygon points="986.91,846.04 986.91,860.12 975.26,867.16 963.60,860.12 963.60,846.04 975.26,839.00" fill="#cc33ff" stroke="#cc33ff"/>
<polygon points="986.91,803.79 986.91,817.87 975.26,824.91 963.60,817.87 963.60,803.79 975.26,796.75" fill="#cc33ff" stroke="#cc33ff"/>
<polygon points="986.91,761.54 986.91,775.62 975.26,782.66 963.60,775.62 963.60,761.54 975.26,754.50" fill="#e619ff" stroke="#e619ff"/>
<polygon points="986.91,719.29 986.91,733.37 975.26,740.41 963.60,733.37 963.60,719.29 975.26,712.25" fill="#bf40ff" stroke="#bf40ff"/>
<polygon points="986.91,677.04 986.91,691.12 975.26,698.16 963.60,691.12 963.60,677.04 975.26,670.00" fill="#8c73ff" stroke="#8c73ff"/>
<polygon points="986.91,634.79 986.91,648.87 975.26,655.91 963.60,648.87 963.60,634.79 975.26,627.75" fill="#8c73ff" stroke="#8c73ff"/>
<polygon points="986.91,592.54 986.91,606.62 975.26,613.66 963.60,606.62 963.60,592.54 975.26,585.50" fill="#8080ff" stroke="#8080ff"/>
<polygon points="986.91,550.29 986.91,564.37 975.26,571.41 963.60,564.37 963.60,550.29 975.26,543.25" fill="#1ae6ff" stroke="#1ae6ff"/>
<polygon points="986.91,508.04 986.91,522.12 975.26,529.16 963.60,522.12 963.60,508.04 975.26,501.00" fill="#59a6ff" stroke="#59a6ff"/>
<polygon points="986.91,465.79 986.91,479.87 975.26,486.91 963.60,479.87 963.60,465.79 975.26,458.75" fill="#00ffff" stroke="#00ffff"/>
<polygon points="1010.22,930.54 1010.22,944.62 998.57,951.66 986.91,944.62 986.91,930.54 998.57,923.50" fill="#40bfff" stroke="#40bfff"/>
<polygon points="1010.22,888.29 1010.22,902.37 998.57,909.41 986.91,902.37 986.91,888.29 998.57,881.25" fill="#738cff" stroke="#738cff"/>
<polygon points="1010.22,846.04 1010.22,860.12 998.57,867.16 986.91,860.12 986.91,846.04 998.57,839.00" fill="#40bfff" stroke="#40bfff"/>
<polygon points="1010.22,803.79 1010.22,817.87 998.57,824.91 986.91,817.87 986.91,803.79 998.57,796.75" fill="#738cff" stroke="#738cff"/>
<polygon points="1010.22,761.54 1010.22,775.62 998.57,782.66 986.91,775.62 986.91,761.54 998.57,754.50" fill="#8080ff" stroke="#8080ff"/>
<polygon points="1010.22,719.29 1010.22,733.37 998.57,740.41 986.91,733.37 986.91,719.29 998.57,712.25" fill="#8080ff" stroke="#8080ff"/>
<polygon points="1010.22,677.04 1010.22,691.12 998.57,698.16 986.91,691.12 986.91,677.04 998.57,670.00" fill="#8080ff" stroke="#8080ff"/>
<polygon points="1010.22,634.79 1010.22,648.87 998.57,655.91 986.91,648.87 986.91,634.79 998.57,627.75" fill="#6699ff" stroke="#6699ff"/>
<polygon points="1010.22,592.54 1010.22,606.62 998.57,613.66 986.91,606.62 986.91,592.54 998.57,585.50" fill="#8080ff" stroke="#8080ff"/>
<polygon points="1010.22,550.29 1010.22,564.37 998.57,571.41 986.91,564.37 986.91,550.29 998.57,543.25" fill="#738cff" stroke="#738cff"/>
<polygon points="1010.22,508.04 1010.22,522.12 998.57,529.16 986.91,522.12 986.91,508.04 998.57,501.00" fill="#00ffff" stroke="#00ffff"/>
<polygon points="1010.22,465.79 1010.22,479.87 998.57,486.91 986.91,479.87 986.91,465.79 998.57,458.75" fill="#1ae6ff" stroke="#1ae6ff"/>
<polygon points="1033.54,930.54 1033.54,944.62 1021.88,951.66 1010.22,944.62 1010.22,930.54 1021.88,923.50" fill="#00ffff" stroke="#00ffff"/>
<polygon points="1033.54,888.29 1033.54,902.37 1021.88,909.41 1010.22,902.37 1010.22,888.29 1021.88,881.25" fill="#738cff" stroke="#738cff"/>
<polygon points="1033.54,846.04 1033.54,860.12 1021.88,867.16 1010.22,860.12 1010.22,846.04 1021.88,839.00" fill="#738cff" stroke="#738cff"/>
<polygon points="1033.54,803.79 1033.54,817.87 1021.88,824.91 1010.22,817.87 1010.22,803.79 1021.88,796.75" fill="#8c73ff" stroke="#8c73ff"/>
<polygon points="1033.54,719.29 1033.54,733.37 1021.88,740.41 1010.22,733.37 1010.22,719.29 1021.88,712.25" fill="#4cb2ff" stroke="#4cb2ff"/>
<polygon points="1033.54,634.79 1033.54,648.87 1021.88,655.91 1010.22,648.87 1010.22,634.79 1021.88,627.75" fill="#59a6ff" stroke="#59a6ff"/>
<polygon points="1033.54,592.54 1033.54,606.62 1021.88,613.66 1010.22,606.62 1010.22,592.54 1021.88,585.50" fill="#8080ff" stroke="#8080ff"/>
<polygon points="1033.54,550.29 1033.54,564.37 1021.88,571.41 1010.22,564.37 1010.22,550.29 1021.88,543.25" fill="#4cb2ff" stroke="#4cb2ff"/>
<polygon points="1056.85,930.54 1056.85,944.62 1045.19,951.66 1033.54,944.62 1033.54,930.54 1045.19,923.50" fill="#00ffff" stroke="#00ffff"/>
<polygon points="1056.85,846.04 1056.85,860.12 1045.19,867.16 1033.54,860.12 1033.54,846.04 1045.19,839.00" fill="#738cff" stroke="#738cff"/>
<polygon points="1056.85,803.79 1056.85,817.87 1045.19,824.91 1033.54,817.87 1033.54,803.79 1045.19,796.75" fill="#9966ff" stroke="#9966ff"/>
<polygon points="1056.85,761.54 1056.85,775.62 1045.19,782.66 1033.54,775.62 1033.54,761.54 1045.19,754.50" fill="#8c73ff" stroke="#8c73ff"/>
<polygon points="1056.85,719.29 1056.85,733.37 1045.19,740.41 1033.54,733.37 1033.54,719.29 1045.19,712.25" fill="#6699ff" stroke="#6699ff"/>
<polygon points="1056.85,677.04 1056.85,691.12 1045.19,698.16 1033.54,691.12 1033.54,677.04 1045.19,670.00" fill="#00ffff" stroke="#00ffff"/>
<polygon points="1056.85,634.79 1056.85,648.87 1045.19,655.91 1033.54,648.87 1033.54,634.79 1045.19,627.75" fill="#1ae6ff" stroke="#1ae6ff"/>
<polygon points="1056.85,592.54 1056.85,606.62 1045.19,613.66 1033.54,606.62 1033.54,592.54 1045.19,585.50" fill="#8080ff" stroke="#8080ff"/>
<polygon points="1056.85,550.29 1056.85,564.37 1045.19,571.41 1033.54,564.37 1033.54,550.29 1045.19,543.25" fill="#738cff" stroke="#738cff"/>
<polygon points="1080.16,803.79 1080.16,817.87 1068.50,824.91 1056.85,817.87 1056.85,803.79 1068.50,796.75" fill="#33ccff" stroke="#33ccff"/>
<polygon points="1080.16,761.54 1080.16,775.62 1068.50,782.66 1056.85,775.62 1056.85,761.54 1068.50,754.50" fill="#1ae6ff" stroke="#1ae6ff"/>
<polygon points="1080.16,719.29 1080.16,733.37 1068.50,740.41 1056.85,733.37 1056.85,719.29 1068.50,712.25" fill="#59a6ff" stroke="#59a6ff"/>
<polygon points="1080.16,677.04 1080.16,691.12 1068.50,698.16 1056.85,691.12 1056.85,677.04 1068.50,670.00" fill="#738cff" stroke="#738cff"/>
<polygon points="1080.16,634.79 1080.16,648.87 1068.50,655.91 1056.85,648.87 1056.85,634.79 1068.50,627.75" fill="#00ffff" stroke="#00ffff"/>
<polygon points="1080.16,592.54 1080.16,606.62 1068.50,613.66 1056.85,606.62 1056.85,592.54 1068.50,585.50" fill="#8c73ff" stroke="#8c73ff"/>
<polygon points="1080.16,550.29 1080.16,564.37 1068.50,571.41 1056.85,564.37 1056.85,550.29 1068.50,543.25" fill="#4cb2ff" stroke="#4cb2ff"/>
<polygon points="1080.16,508.04 1080.16,522.12 1068.50,529.16 1056.85,522.12 1056.85,508.04 1068.50,501.00" fill="#00ffff" stroke="#00ffff"/>
<polygon points="1103.47,719.29 1103.47,733.37 1091.81,740.41 1080.16,733.37 1080.16,719.29 1091.81,712.25" fill="#00ffff" stroke="#00ffff"/>
<polygon points="1103.47,677.04 1103.47,691.12 1091.81,698.16 1080.16,691.12 1080.16,677.04 1091.81,670.00" fill="#40bfff" stroke="#40bfff"/>
<polygon points="1103.47,592.54 1103.47,606.62 1091.81,613.66 1080.16,606.62 1080.16,592.54 1091.81,585.50" fill="#6699ff" stroke="#6699ff"/>
<polygon points="1103.47,550.29 1103.47,564.37 1091.81,571.41 1080.16,564.37 1080.16,550.29 1091.81,543.25" fill="#6699ff" stroke="#6699ff"/>
<polygon points="1126.78,592.54 1126.78,606.62 1115.12,613.66 1103.47,606.62 1103.47,592.54 1115.12,585.50" fill="#4cb2ff" stroke="#4cb2ff"/>
<polygon points="1126.78,550.29 1126.78,564.37 1115.12,571.41 1103.47,564.37 1103.47,550.29 1115.12,543.25" fill="#4cb2ff" stroke="#4cb2ff"/>
<polygon points="1126.78,508.04 1126.78,522.12 1115.12,529.16 1103.47,522.12 1103.47,508.04 1115.12,501.00" fill="#1ae6ff" stroke="#1ae6ff"/>
<polygon points="1150.09,634.79 1150.09,648.87 1138.44,655.91 1126.78,648.87 1126.78,634.79 1138.44,627.75" fill="#00ffff" stroke="#00ffff"/>
<polygon points="1150.09,550.29 1150.09,564.37 1138.44,571.41 1126.78,564.37 1126.78,550.29 1138.44,543.25" fill="#738cff" stroke="#738cff"/>
<polygon points="1173.40,550.29 1173.40,564.37 1161.75,571.41 1150.09,564.37 1150.09,550.29 1161.75,543.25" fill="#4cb2ff" stroke="#4cb2ff"/>
<polygon points="1173.40,508.04 1173.40,522.12 1161.75,529.16 1150.09,522.12 1150.09,508.04 1161.75,501.00" fill="#1ae6ff" stroke="#1ae6ff"/>
<polygon points="1196.71,550.29 1196.71,564.37 1185.06,571.41 1173.40,564.37 1173.40,550.29 1185.06,543.25" fill="#00ffff" stroke="#00ffff"/>
<polygon points="1220.02,508.04 1220.02,522.12 1208.37,529.16 1196.71,522.12 1196.71,508.04 1208.37,501.00" fill="#00ffff" stroke="#00ffff"/>
<polygon points="1313.27,465.79 1313.27,479.87 1301.61,486.91 1289.96,479.87 1289.96,465.79 1301.61,458.75" fill="#00ffff" stroke="#00ffff"/>
<polygon points="1336.58,465.79 1336.58,479.87 1324.93,486.91 1313.27,479.87 1313.27,465.79 1324.93,458.75" fill="#00ffff" stroke="#00ffff"/>
<polygon points="1383.20,423.54 1383.20,437.62 1371.55,444.66 1359.89,437.62 1359.89,423.54 1371.55,416.50" fill="#00ffff" stroke="#00ffff"/>
<polygon points="1429.83,381.29 1429.83,395.37 1418.17,402.41 1406.51,395.37 1406.51,381.29 1418.17,374.25" fill="#00ffff" stroke="#00ffff"/>
<polygon points="275.92,1458.66 275.92,1472.75 264.27,1479.79 252.61,1472.75 252.61,1458.66 264.27,1451.62" fill="#00ffff" stroke="#00ffff"/>
<polygon points="275.92,1416.41 275.92,1430.50 264.27,1437.54 252.61,1430.50 252.61,1416.41 264.27,1409.37" fill="#00ffff" stroke="#00ffff"/>
<polygon points="299.23,1416.41 299.23,1430.50 287.58,1437.54 275.92,1430.50 275.92,1416.41 287.58,1409.37" fill="#1ae6ff" stroke="#1ae6ff"/>
<polygon points="322.54,1543.16 322.54,1557.25 310.89,1564.29 299.23,1557.25 299.23,1543.16 310.89,1536.12" fill="#00ffff" stroke="#00ffff"/>
<polygon points="322.54,1458.66 322.54,1472.75 310.89,1479.79 299.23,1472.75 299.23,1458.66 310.89,1451.62" fill="#1ae6ff" stroke="#1ae6ff"/>
<polygon points="322.54,1416.41 322.54,1430.50 310.89,1437.54 299.23,1430.50 299.23,1416.41 310.89,1409.37" fill="#4cb2ff" stroke="#4cb2ff"/>
<polygon points="322.54,1374.16 322.54,1388.25 310.89,1395.29 299.23,1388.25 299.23,1374.16 310.89,1367.12" fill="#1ae6ff" stroke="#1ae6ff"/>
<polygon points="345.85,1416.41 345.85,1430.50 334.20,1437.54 322.54,1430.50 322.54,1416.41 334.20,1409.37" fill="#6699ff" stroke="#6699ff"/>
<polygon points="345.85,1374.16 345.85,1388.25 334.20,1395.29 322.54,1388.25 322.54,1374.16 334.20,1367.12" fill="#33ccff" stroke="#33ccff"/>
<polygon points="369.17,1458.66 369.17,1472.75 357.51,1479.79 345.85,1472.75 345.85,1458.66 357.51,1451.62" fill="#00ffff" stroke="#00ffff"/>
<polygon points="369.17,1416.41 369.17,1430.50 357.51,1437.54 345.85,1430.50 345.85,1416.41 357.51,1409.37" fill="#9966ff" stroke="#9966ff"/>
<polygon points="369.17,1374.16 369.17,1388.25 357.51,1395.29 345.85,1388.25 345.85,1374.16 357.51,1367.12" fill="#9966ff" stroke="#9966ff"/>
<polygon points="369.17,1331.91 369.17,1346.00 357.51,1353.04 345.85,1346.00 345.85,1331.91 357.51,1324.87" fill="#00ffff" stroke="#00ffff"/>
<polygon points="392.48,1458.66 392.48,1472.75 380.82,1479.79 369.17,1472.75 369.17,1458.66 380.82,1451.62" fill="#00ffff" stroke="#00ffff"/>
<polygon points="392.48,1416.41 392.48,1430.50 380.82,1437.54 369.17,1430.50 369.17,1416.41 380.82,1409.37" fill="#8080ff" stroke="#8080ff"/>
<polygon points="392.48,1374.16 392.48,1388.25 380.82,1395.29 369.17,1388.25 369.17,1374.16 380.82,1367.12" fill="#59a6ff" stroke="#59a6ff"/>
<polygon points="415.79,1458.66 415.79,1472.75 404.13,1479.79 392.48,1472.75 392.48,1458.66 404.13,1451.62" fill="#1ae6ff" stroke="#1ae6ff"/>
<polygon points="415.79,1416.41 415.79,1430.50 404.13,1437.54 392.48,1430.50 392.48,1416.41 404.13,1409.37" fill="#6699ff" stroke="#6699ff"/>
<polygon points="415.79,1374.16 415.79,1388.25 404.13,1395.29 392.48,1388.25 392.48,1374.16 404.13,1367.12" fill="#59a6ff" stroke="#59a6ff"/>
<polygon points="415.79,1331.91 415.79,1346.00 404.13,1353.04 392.48,1346.00 392.48,1331.91 404.13,1324.87" fill="#1ae6ff" stroke="#1ae6ff"/>
<polygon points="415.79,1289.66 415.79,1303.75 404.13,1310.79 392.48,1303.75 392.48,1289.66 404.13,1282.62" fill="#00ffff" stroke="#00ffff"/>
<polygon points="439.10,1416.41 439.10,1430.50 427.44,1437.54 415.79,1430.50 415.79,1416.41 427.44,1409.37" fill="#1ae6ff" stroke="#1ae6ff"/>
<polygon points="439.10,1374.16 439.10,1388.25 427.44,1395.29 415.79,1388.25 415.79,1374.16 427.44,1367.12" fill="#59a6ff" stroke="#59a6ff"/>
<polygon points="439.10,1331.91 439.10,1346.00 427.44,1353.04 415.79,1346.00 415.79,1331.91 427.44,1324.87" fill="#26d9ff" stroke="#26d9ff"/>
<polygon points="439.10,1289.66 439.10,1303.75 427.44,1310.79 415.79,1303.75 415.79,1289.66 427.44,1282.62" fill="#00ffff" stroke="#00ffff"/>
<polygon points="462.41,1331.91 462.41,1346.00 450.76,1353.04 439.10,1346.00 439.10,1331.91 450.76,1324.87" fill="#1ae6ff" stroke="#1ae6ff"/>
<polygon points="462.41,1289.66 462.41,1303.75 450.76,1310.79 439.10,1303.75 439.10,1289.66 450.76,1282.62" fill="#1ae6ff" stroke="#1ae6ff"/>
<polygon points="485.72,1331.91 485.72,1346.00 474.07,1353.04 462.41,1346.00 462.41,1331.91 474.07,1324.87" fill="#1ae6ff" stroke="#1ae6ff"/>
<polygon points="485.72,1289.66 485.72,1303.75 474.07,1310.79 462.41,1303.75 462.41,1289.66 474.07,1282.62" fill="#33ccff" stroke="#33ccff"/>
<polygon points="485.72,1247.41 485.72,1261.50 474.07,1268.54 462.41,1261.50 462.41,1247.41 474.07,1240.37" fill="#1ae6ff" stroke="#1ae6ff"/>
<polygon points="509.03,1374.16 509.03,1388.25 497.38,1395.29 485.72,1388.25 485.72,1374.16 497.38,1367.12" fill="#33ccff" stroke="#33ccff"/>
<polygon points="509.03,1331.91 509.03,1346.00 497.38,1353.04 485.72,1346.00 485.72,1331.91 497.38,1324.87" fill="#00ffff" stroke="#00ffff"/>
<polygon points="509.03,1289.66 509.03,1303.75 497.38,1310.79 485.72,1303.75 485.72,1289.66 497.38,1282.62" fill="#59a6ff" stroke="#59a6ff"/>
<polygon points="509.03,1247.41 509.03,1261.50 497.38,1268.54 485.72,1261.50 485.72,1247.41 497.38,1240.37" fill="#8080ff" stroke="#8080ff"/>
<polygon points="532.34,1374.16 532.34,1388.25 520.69,1395.29 509.03,1388.25 509.03,1374.16 520.69,1367.12" fill="#00ffff" stroke="#00ffff"/>
<polygon points="532.34,1331.91 532.34,1346.00 520.69,1353.04 509.03,1346.00 509.03,1331.91 520.69,1324.87" fill="#33ccff" stroke="#33ccff"/>
<polygon points="532.34,1289.66 532.34,1303.75 520.69,1310.79 509.03,1303.75 509.03,1289.66 520.69,1282.62" fill="#738cff" stroke="#738cff"/>
<polygon points="532.34,1247.41 532.34,1261.50 520.69,1268.54 509.03,1261.50 509.03,1247.41 520.69,1240.37" fill="#4cb2ff" stroke="#4cb2ff"/>
<polygon points="532.34,1205.16 532.34,1219.25 520.69,1226.29 509.03,1219.25 509.03,1205.16 520.69,1198.12" fill="#59a6ff" stroke="#59a6ff"/>
<polygon points="532.34,1162.91 532.34,1177.00 520.69,1184.04 509.03,1177.00 509.03,1162.91 520.69,1155.87" fill="#00ffff" stroke="#00ffff"/>
<polygon points="532.34,1120.66 532.34,1134.75 520.69,1141.79 509.03,1134.75 509.03,1120.66 520.69,1113.62" fill="#1ae6ff" stroke="#1ae6ff"/>
<polygon points="555.66,1331.91 555.66,1346.00 544.00,1353.04 532.34,1346.00 532.34,1331.91 544.00,1324.87" fill="#33ccff" stroke="#33ccff"/>
<polygon points="555.66,1247.41 555.66,1261.50 544.00,1268.54 532.34,1261.50 532.34,1247.41 544.00,1240.37" fill="#a659ff" stroke="#a659ff"/>
<polygon points="555.66,1205.16 555.66,1219.25 544.00,1226.29 532.34,1219.25 532.34,1205.16 544.00,1198.12" fill="#59a6ff" stroke="#59a6ff"/>
<polygon points="555.66,1078.41 555.66,1092.50 544.00,1099.54 532.34,1092.50 532.34,1078.41 544.00,1071.37" fill="#8080ff" stroke="#8080ff"/>
<polygon points="555.66,1036.16 555.66,1050.25 544.00,1057.29 532.34,1050.25 532.34,1036.16 544.00,1029.12" fill="#33ccff" stroke="#33ccff"/>
<polygon points="555.66,993.91 555.66,1008.00 544.00,1015.04 532.34,1008.00 532.34,993.91 544.00,986.87" fill="#33ccff" stroke="#33ccff"/>
<polygon points="555.66,951.66 555.66,965.75 544.00,972.79 532.34,965.75 532.34,951.66 544.00,944.62" fill="#00ffff" stroke="#00ffff"/>
<polygon points="555.66,909.41 555.66,923.50 544.00,930.54 532.34,923.50 532.34,909.41 544.00,902.37" fill="#00ffff" stroke="#00ffff"/>
<polygon points="578.97,1331.91 578.97,1346.00 567.31,1353.04 555.66,1346.00 555.66,1331.91 567.31,1324.87" fill="#1ae6ff" stroke="#1ae6ff"/>
<polygon points="578.97,1289.66 578.97,1303.75 567.31,1310.79 555.66,1303.75 555.66,1289.66 567.31,1282.62" fill="#59a6ff" stroke="#59a6ff"/>
<polygon points="578.97,1247.41 578.97,1261.50 567.31,1268.54 555.66,1261.50 555.66,1247.41 567.31,1240.37" fill="#8080ff" stroke="#8080ff"/>
<polygon points="578.97,1205.16 578.97,1219.25 567.31,1226.29 555.66,1219.25 555.66,1205.16 567.31,1198.12" fill="#9966ff" stroke="#9966ff"/>
<polygon points="578.97,1162.91 578.97,1177.00 567.31,1184.04 555.66,1177.00 555.66,1162.91 567.31,1155.87" fill="#8c73ff" stroke="#8c73ff"/>
<polygon points="578.97,1120.66 578.97,1134.75 567.31,1141.79 555.66,1134.75 555.66,1120.66 567.31,1113.62" fill="#00ffff" stroke="#00ffff"/>
<polygon points="578.97,1078.41 578.97,1092.50 567.31,1099.54 555.66,1092.50 555.66,1078.41 567.31,1071.37" fill="#8c73ff" stroke="#8c73ff"/>
<polygon points="578.97,1036.16 578.97,1050.25 567.31,1057.29 555.66,1050.25 555.66,1036.16 567.31,1029.12" fill="#8c73ff" stroke="#8c73ff"/>
<polygon points="578.97,993.91 578.97,1008.00 567.31,1015.04 555.66,1008.00 555.66,993.91 567.31,986.87" fill="#8080ff" stroke="#8080ff"/>
<polygon points="602.28,1289.66 602.28,1303.75 590.62,1310.79 578.97,1303.75 578.97,1289.66 590.62,1282.62" fill="#4cb2ff" stroke="#4cb2ff"/>
<polygon points="602.28,1247.41 602.28,1261.50 590.62,1268.54 578.97,1261.50 578.97,1247.41 590.62,1240.37" fill="#1ae6ff" stroke="#1ae6ff"/>
<polygon points="602.28,1205.16 602.28,1219.25 590.62,1226.29 578.97,1219.25 578.97,1205.16 590.62,1198.12" fill="#40bfff" stroke="#40bfff"/>
<polygon points="602.28,1162.91 602.28,1177.00 590.62,1184.04 578.97,1177.00 578.97,1162.91 590.62,1155.87" fill="#738cff" stroke="#738cff"/>
<polygon points="602.28,1120.66 602.28,1134.75 590.62,1141.79 578.97,1134.75 578.97,1120.66 590.62,1113.62" fill="#8c73ff" stroke="#8c73ff"/>
<polygon points="602.28,1078.41 602.28,1092.50 590.62,1099.54 578.97,1092.50 578.97,1078.41 590.62,1071.37" fill="#bf40ff" stroke="#bf40ff"/>
<polygon points="602.28,1036.16 602.28,1050.25 590.62,1057.29 578.97,1050.25 578.97,1036.16 590.62,1029.12" fill="#d926ff" stroke="#d926ff"/>
<polygon points="602.28,993.91 602.28,1008.00 590.62,1015.04 578.97,1008.00 578.97,993.91 590.62,986.87" fill="#8080ff" stroke="#8080ff"/>
<polygon points="602.28,951.66 602.28,965.75 590.62,972.79 578.97,965.75 578.97,951.66 590.62,944.62" fill="#40bfff" stroke="#40bfff"/>
<polygon points="625.59,1247.41 625.59,1261.50 613.93,1268.54 602.28,1261.50 602.28,1247.41 613.93,1240.37" fill="#33ccff" stroke="#33ccff"/>
<polygon points="625.59,1205.16 625.59,1219.25 613.93,1226.29 602.28,1219.25 602.28,1205.16 613.93,1198.12" fill="#00ffff" stroke="#00ffff"/>
<polygon points="625.59,1162.91 625.59,1177.00 613.93,1184.04 602.28,1177.00 602.28,1162.91 613.93,1155.87" fill="#33ccff" stroke="#33ccff"/>
<polygon points="625.59,1120.66 625.59,1134.75 613.93,1141.79 602.28,1134.75 602.28,1120.66 613.93,1113.62" fill="#8c73ff" stroke="#8c73ff"/>
<polygon points="625.59,1078.41 625.59,1092.50 613.93,1099.54 602.28,1092.50 602.28,1078.41 613.93,1071.37" fill="#8080ff" stroke="#8080ff"/>
<polygon points="625.59,1036.16 625.59,1050.25 613.93,1057.29 602.28,1050.25 602.28,1036.16 613.93,1029.12" fill="#b24dff" stroke="#b24dff"/>
<polygon points="625.59,993.91 625.59,1008.00 613.93,1015.04 602.28,1008.00 602.28,993.91 613.93,986.87" fill="#738cff" stroke="#738cff"/>
<polygon points="625.59,951.66 625.59,965.75 613.93,972.79 602.28,965.75 602.28,951.66 613.93,944.62" fill="#40bfff" stroke="#40bfff"/>
<polygon points="648.90,1205.16 648.90,1219.25 637.24,1226.29 625.59,1219.25 625.59,1205.16 637.24,1198.12" fill="#00ffff" stroke="#00ffff"/>
<polygon points="648.90,1162.91 648.90,1177.00 637.24,1184.04 625.59,1177.00 625.59,1162.91 637.24,1155.87" fill="#00ffff" stroke="#00ffff"/>
<polygon points="648.90,1120.66 648.90,1134.75 637.24,1141.79 625.59,1134.75 625.59,1120.66 637.24,1113.62" fill="#6699ff" stroke="#6699ff"/>
<polygon points="648.90,1078.41 648.90,1092.50 637.24,1099.54 625.59,1092.50 625.59,1078.41 637.24,1071.37" fill="#8c73ff" stroke="#8c73ff"/>
<polygon points="648.90,1036.16 648.90,1050.25 637.24,1057.29 625.59,1050.25 625.59,1036.16 637.24,1029.12" fill="#b24dff" stroke="#b24dff"/>
<polygon points="648.90,993.91 648.90,1008.00 637.24,1015.04 625.59,1008.00 625.59,993.91 637.24,986.87" fill="#8080ff" stroke="#8080ff"/>
<polygon points="648.90,951.66 648.90,965.75 637.24,972.79 625.59,965.75 625.59,951.66 637.24,944.62" fill="#8080ff" stroke="#8080ff"/>
<polygon points="672.21,1120.66 672.21,1134.75 660.56,1141.79 648.90,1134.75 648.90,1120.66 660.56,1113.62" fill="#00ffff" stroke="#00ffff"/>
<polygon points="672.21,1036.16 672.21,1050.25 660.56,1057.29 648.90,1050.25 648.90,1036.16 660.56,1029.12" fill="#738cff" stroke="#738cff"/>
<polygon points="672.21,993.91 672.21,1008.00 660.56,1015.04 648.90,1008.00 648.90,993.91 660.56,986.87" fill="#8c73ff" stroke="#8c73ff"/>
<polygon points="672.21,951.66 672.21,965.75 660.56,972.79 648.90,965.75 648.90,951.66 660.56,944.62" fill="#8080ff" stroke="#8080ff"/>
<polygon points="672.21,909.41 672.21,923.50 660.56,930.54 648.90,923.50 648.90,909.41 660.56,902.37" fill="#00ffff" stroke="#00ffff"/>
<polygon points="695.52,1036.16 695.52,1050.25 683.87,1057.29 672.21,1050.25 672.21,1036.16 683.87,1029.12" fill="#1ae6ff" stroke="#1ae6ff"/>
<polygon points="695.52,993.91 695.52,1008.00 683.87,1015.04 672.21,1008.00 672.21,993.91 683.87,986.87" fill="#8080ff" stroke="#8080ff"/>
<polygon points="695.52,951.66 695.52,965.75 683.87,972.79 672.21,965.75 672.21,951.66 683.87,944.62" fill="#738cff" stroke="#738cff"/>
<polygon points="695.52,909.41 695.52,923.50 683.87,930.54 672.21,923.50 672.21,909.41 683.87,902.37" fill="#40bfff" stroke="#40bfff"/>
<polygon points="718.83,993.91 718.83,1008.00 707.18,1015.04 695.52,1008.00 695.52,993.91 707.18,986.87" fill="#a659ff" stroke="#a659ff"/>
<polygon points="718.83,951.66 718.83,965.75 707.18,972.79 695.52,965.75 695.52,951.66 707.18,944.62" fill="#4cb2ff" stroke="#4cb2ff"/>
<polygon points="718.83,909.41 718.83,923.50 707.18,930.54 695.52,923.50 695.52,909.41 707.18,902.37" fill="#738cff" stroke="#738cff"/>
<polygon points="742.15,993.91 742.15,1008.00 730.49,1015.04 718.83,1008.00 718.83,993.91 730.49,986.87" fill="#bf40ff" stroke="#bf40ff"/>
<polygon points="742.15,951.66 742.15,965.75 730.49,972.79 718.83,965.75 718.83,951.66 730.49,944.62" fill="#8080ff" stroke="#8080ff"/>
<polygon points="742.15,909.41 742.15,923.50 730.49,930.54 718.83,923.50 718.83,909.41 730.49,902.37" fill="#59a6ff" stroke="#59a6ff"/>
<polygon points="742.15,867.16 742.15,881.25 730.49,888.29 718.83,881.25 718.83,867.16 730.49,860.12" fill="#00ffff" stroke="#00ffff"/>
<polygon points="742.15,824.91 742.15,839.00 730.49,846.04 718.83,839.00 718.83,824.91 730.49,817.87" fill="#40bfff" stroke="#40bfff"/>
<polygon points="765.46,1036.16 765.46,1050.25 753.80,1057.29 742.15,1050.25 742.15,1036.16 753.80,1029.12" fill="#1ae6ff" stroke="#1ae6ff"/>
<polygon points="765.46,993.91 765.46,1008.00 753.80,1015.04 742.15,1008.00 742.15,993.91 753.80,986.87" fill="#bf40ff" stroke="#bf40ff"/>
<polygon points="765.46,951.66 765.46,965.75 753.80,972.79 742.15,965.75 742.15,951.66 753.80,944.62" fill="#a659ff" stroke="#a659ff"/>
<polygon points="765.46,909.41 765.46,923.50 753.80,930.54 742.15,923.50 742.15,909.41 753.80,902.37" fill="#8c73ff" stroke="#8c73ff"/>
<polygon points="765.46,824.91 765.46,839.00 753.80,846.04 742.15,839.00 742.15,824.91 753.80,817.87" fill="#00ffff" stroke="#00ffff"/>
<polygon points="765.46,782.66 765.46,796.75 753.80,803.79 742.15,796.75 742.15,782.66 753.80,775.62" fill="#00ffff" stroke="#00ffff"/>
<polygon points="788.77,1036.16 788.77,1050.25 777.11,1057.29 765.46,1050.25 765.46,1036.16 777.11,1029.12" fill="#00ffff" stroke="#00ffff"/>
<polygon points="788.77,993.91 788.77,1008.00 777.11,1015.04 765.46,1008.00 765.46,993.91 777.11,986.87" fill="#40bfff" stroke="#40bfff"/>
<polygon points="788.77,951.66 788.77,965.75 777.11,972.79 765.46,965.75 765.46,951.66 777.11,944.62" fill="#8080ff" stroke="#8080ff"/>
<polygon points="788.77,909.41 788.77,923.50 777.11,930.54 765.46,923.50 765.46,909.41 777.11,902.37" fill="#a659ff" stroke="#a659ff"/>
<polygon points="788.77,867.16 788.77,881.25 777.11,888.29 765.46,881.25 765.46,867.16 777.11,860.12" fill="#33ccff" stroke="#33ccff"/>
<polygon points="812.08,1036.16 812.08,1050.25 800.42,1057.29 788.77,1050.25 788.77,1036.16 800.42,1029.12" fill="#00ffff" stroke="#00ffff"/>
<polygon points="812.08,993.91 812.08,1008.00 800.42,1015.04 788.77,1008.00 788.77,993.91 800.42,986.87" fill="#40bfff" stroke="#40bfff"/>
<polygon points="812.08,951.66 812.08,965.75 800.42,972.79 788.77,965.75 788.77,951.66 800.42,944.62" fill="#8c73ff" stroke="#8c73ff"/>
<polygon points="812.08,909.41 812.08,923.50 800.42,930.54 788.77,923.50 788.77,909.41 800.42,902.37" fill="#a659ff" stroke="#a659ff"/>
<polygon points="812.08,867.16 812.08,881.25 800.42,888.29 788.77,881.25 788.77,867.16 800.42,860.12" fill="#8080ff" stroke="#8080ff"/>
<polygon points="812.08,824.91 812.08,839.00 800.42,846.04 788.77,839.00 788.77,824.91 800.42,817.87" fill="#8080ff" stroke="#8080ff"/>
<polygon points="835.39,1120.66 835.39,1134.75 823.73,1141.79 812.08,1134.75 812.08,1120.66 823.73,1113.62" fill="#00ffff" stroke="#00ffff"/>
<polygon points="835.39,1036.16 835.39,1050.25 823.73,1057.29 812.08,1050.25 812.08,1036.16 823.73,1029.12" fill="#00ffff" stroke="#00ffff"/>
<polygon points="835.39,993.91 835.39,1008.00 823.73,1015.04 812.08,1008.00 812.08,993.91 823.73,986.87" fill="#40bfff" stroke="#40bfff"/>
<polygon points="835.39,951.66 835.39,965.75 823.73,972.79 812.08,965.75 812.08,951.66 823.73,944.62" fill="#a659ff" stroke="#a659ff"/>
<polygon points="835.39,909.41 835.39,923.50 823.73,930.54 812.08,923.50 812.08,909.41 823.73,902.37" fill="#a659ff" stroke="#a659ff"/>
<polygon points="835.39,867.16 835.39,881.25 823.73,888.29 812.08,881.25 812.08,867.16 823.73,860.12" fill="#cc33ff" stroke="#cc33ff"/>
<polygon points="835.39,824.91 835.39,839.00 823.73,846.04 812.08,839.00 812.08,824.91 823.73,817.87" fill="#00ffff" stroke="#00ffff"/>
<polygon points="858.70,1120.66 858.70,1134.75 847.05,1141.79 835.39,1134.75 835.39,1120.66 847.05,1113.62" fill="#00ffff" stroke="#00ffff"/>
<polygon points="858.70,1078.41 858.70,1092.50 847.05,1099.54 835.39,1092.50 835.39,1078.41 847.05,1071.37" fill="#1ae6ff" stroke="#1ae6ff"/>
<polygon points="858.70,1036.16 858.70,1050.25 847.05,1057.29 835.39,1050.25 835.39,1036.16 847.05,1029.12" fill="#00ffff" stroke="#00ffff"/>
<polygon points="858.70,993.91 858.70,1008.00 847.05,1015.04 835.39,1008.00 835.39,993.91 847.05,986.87" fill="#40bfff" stroke="#40bfff"/>
<polygon points="858.70,951.66 858.70,965.75 847.05,972.79 835.39,965.75 835.39,951.66 847.05,944.62" fill="#8c73ff" stroke="#8c73ff"/>
<polygon points="858.70,909.41 858.70,923.50 847.05,930.54 835.39,923.50 835.39,909.41 847.05,902.37" fill="#9966ff" stroke="#9966ff"/>
<polygon points="858.70,867.16 858.70,881.25 847.05,888.29 835.39,881.25 835.39,867.16 847.05,860.12" fill="#8c73ff" stroke="#8c73ff"/>
<polygon points="858.70,824.91 858.70,839.00 847.05,846.04 835.39,839.00 835.39,824.91 847.05,817.87" fill="#738cff" stroke="#738cff"/>
<polygon points="858.70,782.66 858.70,796.75 847.05,803.79 835.39,796.75 835.39,782.66 847.05,775.62" fill="#33ccff" stroke="#33ccff"/>
<polygon points="858.70,613.66 858.70,627.75 847.05,634.79 835.39,627.75 835.39,613.66 847.05,606.62" fill="#33ccff" stroke="#33ccff"/>
<polygon points="882.01,1162.91 882.01,1177.00 870.36,1184.04 858.70,1177.00 858.70,1162.91 870.36,1155.87" fill="#1ae6ff" stroke="#1ae6ff"/>
<polygon points="882.01,1036.16 882.01,1050.25 870.36,1057.29 858.70,1050.25 858.70,1036.16 870.36,1029.12" fill="#33ccff" stroke="#33ccff"/>
<polygon points="882.01,993.91 882.01,1008.00 870.36,1015.04 858.70,1008.00 858.70,993.91 870.36,986.87" fill="#40bfff" stroke="#40bfff"/>
<polygon points="882.01,951.66 882.01,965.75 870.36,972.79 858.70,965.75 858.70,951.66 870.36,944.62" fill="#a659ff" stroke="#a659ff"/>
<polygon points="882.01,909.41 882.01,923.50 870.36,930.54 858.70,923.50 858.70,909.41 870.36,902.37" fill="#bf40ff" stroke="#bf40ff"/>
<polygon points="882.01,867.16 882.01,881.25 870.36,888.29 858.70,881.25 858.70,867.16 870.36,860.12" fill="#bf40ff" stroke="#bf40ff"/>
<polygon points="882.01,824.91 882.01,839.00 870.36,846.04 858.70,839.00 858.70,824.91 870.36,817.87" fill="#8080ff" stroke="#8080ff"/>
<polygon points="882.01,782.66 882.01,796.75 870.36,803.79 858.70,796.75 858.70,782.66 870.36,775.62" fill="#738cff" stroke="#738cff"/>
<polygon points="882.01,740.41 882.01,754.50 870.36,761.54 858.70,754.50 858.70,740.41 870.36,733.37" fill="#33ccff" stroke="#33ccff"/>
<polygon points="882.01,698.16 882.01,712.25 870.36,719.29 858.70,712.25 858.70,698.16 870.36,691.12" fill="#738cff" stroke="#738cff"/>
<polygon points="882.01,655.91 882.01,670.00 870.36,677.04 858.70,670.00 858.70,655.91 870.36,648.87" fill="#59a6ff" stroke="#59a6ff"/>
<polygon points="882.01,613.66 882.01,627.75 870.36,634.79 858.70,627.75 858.70,613.66 870.36,606.62" fill="#8080ff" stroke="#8080ff"/>
<polygon points="882.01,571.41 882.01,585.50 870.36,592.54 858.70,585.50 858.70,571.41 870.36,564.37" fill="#00ffff" stroke="#00ffff"/>
<polygon points="882.01,529.16 882.01,543.25 870.36,550.29 858.70,543.25 858.70,529.16 870.36,522.12" fill="#00ffff" stroke="#00ffff"/>
<polygon points="905.32,1205.16 905.32,1219.25 893.67,1226.29 882.01,1219.25 882.01,1205.16 893.67,1198.12" fill="#1ae6ff" stroke="#1ae6ff"/>
<polygon points="905.32,1162.91 905.32,1177.00 893.67,1184.04 882.01,1177.00 882.01,1162.91 893.67,1155.87" fill="#00ffff" stroke="#00ffff"/>
<polygon points="905.32,993.91 905.32,1008.00 893.67,1015.04 882.01,1008.00 882.01,993.91 893.67,986.87" fill="#26d9ff" stroke="#26d9ff"/>
<polygon points="905.32,951.66 905.32,965.75 893.67,972.79 882.01,965.75 882.01,951.66 893.67,944.62" fill="#8c73ff" stroke="#8c73ff"/>
<polygon points="905.32,909.41 905.32,923.50 893.67,930.54 882.01,923.50 882.01,909.41 893.67,902.37" fill="#a659ff" stroke="#a659ff"/>
<polygon points="905.32,867.16 905.32,881.25 893.67,888.29 882.01,881.25 882.01,867.16 893.67,860.12" fill="#9966ff" stroke="#9966ff"/>
<polygon points="905.32,824.91 905.32,839.00 893.67,846.04 882.01,839.00 882.01,824.91 893.67,817.87" fill="#a659ff" stroke="#a659ff"/>
<polygon points="905.32,782.66 905.32,796.75 893.67,803.79 882.01,796.75 882.01,782.66 893.67,775.62" fill="#59a6ff" stroke="#59a6ff"/>
<polygon points="905.32,740.41 905.32,754.50 893.67,761.54 882.01,754.50 882.01,740.41 893.67,733.37" fill="#40bfff" stroke="#40bfff"/>
<polygon points="905.32,698.16 905.32,712.25 893.67,719.29 882.01,712.25 882.01,698.16 893.67,691.12" fill="#4cb2ff" stroke="#4cb2ff"/>
<polygon points="905.32,655.91 905.32,670.00 893.67,677.04 882.01,670.00 882.01,655.91 893.67,648.87" fill="#4cb2ff" stroke="#4cb2ff"/>
<polygon points="905.32,613.66 905.32,627.75 893.67,634.79 882.01,627.75 882.01,613.66 893.67,606.62" fill="#1ae6ff" stroke="#1ae6ff"/>
<polygon points="905.32,571.41 905.32,585.50 893.67,592.54 882.01,585.50 882.01,571.41 893.67,564.37" fill="#00ffff" stroke="#00ffff"/>
<polygon points="928.63,1247.41 928.63,1261.50 916.98,1268.54 905.32,1261.50 905.32,1247.41 916.98,1240.37" fill="#00ffff" stroke="#00ffff"/>
<polygon points="928.63,1120.66 928.63,1134.75 916.98,1141.79 905.32,1134.75 905.32,1120.66 916.98,1113.62" fill="#00ffff" stroke="#00ffff"/>
<polygon points="928.63,1036.16 928.63,1050.25 916.98,1057.29 905.32,1050.25 905.32,1036.16 916.98,1029.12" fill="#4cb2ff" stroke="#4cb2ff"/>
<polygon points="928.63,993.91 928.63,1008.00 916.98,1015.04 905.32,1008.00 905.32,993.91 916.98,986.87" fill="#9966ff" stroke="#9966ff"/>
<polygon points="928.63,951.66 928.63,965.75 916.98,972.79 905.32,965.75 905.32,951.66 916.98,944.62" fill="#8c73ff" stroke="#8c73ff"/>
<polygon points="928.63,909.41 928.63,923.50 916.98,930.54 905.32,923.50 905.32,909.41 916.98,902.37" fill="#bf40ff" stroke="#bf40ff"/>
<polygon points="928.63,867.16 928.63,881.25 916.98,888.29 905.32,881.25 905.32,867.16 916.98,860.12" fill="#f20dff" stroke="#f20dff"/>
<polygon points="928.63,824.91 928.63,839.00 916.98,846.04 905.32,839.00 905.32,824.91 916.98,817.87" fill="#4cb2ff" stroke="#4cb2ff"/>
<polygon points="928.63,782.66 928.63,796.75 916.98,803.79 905.32,796.75 905.32,782.66 916.98,775.62" fill="#4cb2ff" stroke="#4cb2ff"/>
<polygon points="928.63,740.41 928.63,754.50 916.98,761.54 905.32,754.50 905.32,740.41 916.98,733.37" fill="#8c73ff" stroke="#8c73ff"/>
<polygon points="928.63,698.16 928.63,712.25 916.98,719.29 905.32,712.25 905.32,698.16 916.98,691.12" fill="#8080ff" stroke="#8080ff"/>
<polygon points="928.63,655.91 928.63,670.00 916.98,677.04 905.32,670.00 905.32,655.91 916.98,648.87" fill="#8080ff" stroke="#8080ff"/>
<polygon points="928.63,613.66 928.63,627.75 916.98,634.79 905.32,627.75 905.32,613.66 916.98,606.62" fill="#59a6ff" stroke="#59a6ff"/>
<polygon points="928.63,571.41 928.63,585.50 916.98,592.54 905.32,585.50 905.32,571.41 916.98,564.37" fill="#33ccff" stroke="#33ccff"/>
<polygon points="928.63,486.91 928.63,501.00 916.98,508.04 905.32,501.00 905.32,486.91 916.98,479.87" fill="#33ccff" stroke="#33ccff"/>
<polygon points="951.95,1331.91 951.95,1346.00 940.29,1353.04 928.63,1346.00 928.63,1331.91 940.29,1324.87" fill="#1ae6ff" stroke="#1ae6ff"/>
<polygon points="951.95,1289.66 951.95,1303.75 940.29,1310.79 928.63,1303.75 928.63,1289.66 940.29,1282.62" fill="#00ffff" stroke="#00ffff"/>
<polygon points="951.95,1247.41 951.95,1261.50 940.29,1268.54 928.63,1261.50 928.63,1247.41 940.29,1240.37" fill="#00ffff" stroke="#00ffff"/>
<polygon points="951.95,1120.66 951.95,1134.75 940.29,1141.79 928.63,1134.75 928.63,1120.66 940.29,1113.62" fill="#00ffff" stroke="#00ffff"/>
<polygon points="951.95,993.91 951.95,1008.00 940.29,1015.04 928.63,1008.00 928.63,993.91 940.29,986.87" fill="#bf40ff" stroke="#bf40ff"/>
<polygon points="951.95,951.66 951.95,965.75 940.29,972.79 928.63,965.75 928.63,951.66 940.29,944.62" fill="#4cb2ff" stroke="#4cb2ff"/>
<polygon points="951.95,909.41 951.95,923.50 940.29,930.54 928.63,923.50 928.63,909.41 940.29,902.37" fill="#bf40ff" stroke="#bf40ff"/>
<polygon points="951.95,867.16 951.95,881.25 940.29,888.29 928.63,881.25 928.63,867.16 940.29,860.12" fill="#cc33ff" stroke="#cc33ff"/>
<polygon points="951.95,824.91 951.95,839.00 940.29,846.04 928.63,839.00 928.63,824.91 940.29,817.87" fill="#bf40ff" stroke="#bf40ff"/>
<polygon points="951.95,782.66 951.95,796.75 940.29,803.79 928.63,796.75 928.63,782.66 940.29,775.62" fill="#8080ff" stroke="#8080ff"/>
<polygon points="951.95,740.41 951.95,754.50 940.29,761.54 928.63,754.50 928.63,740.41 940.29,733.37" fill="#8080ff" stroke="#8080ff"/>
<polygon points="951.95,698.16 951.95,712.25 940.29,719.29 928.63,712.25 928.63,698.16 940.29,691.12" fill="#9966ff" stroke="#9966ff"/>
<polygon points="951.95,655.91 951.95,670.00 940.29,677.04 928.63,670.00 928.63,655.91 940.29,648.87" fill="#738cff" stroke="#738cff"/>
<polygon points="951.95,613.66 951.95,627.75 940.29,634.79 928.63,627.75 928.63,613.66 940.29,606.62" fill="#738cff" stroke="#738cff"/>
<polygon points="951.95,571.41 951.95,585.50 940.29,592.54 928.63,585.50 928.63,571.41 940.29,564.37" fill="#00ffff" stroke="#00ffff"/>
<polygon points="951.95,529.16 951.95,543.25 940.29,550.29 928.63,543.25 928.63,529.16 940.29,522.12" fill="#1ae6ff" stroke="#1ae6ff"/>
<polygon points="951.95,486.91 951.95,501.00 940.29,508.04 928.63,501.00 928.63,486.91 940.29,479.87" fill="#00ffff" stroke="#00ffff"/>
<polygon points="975.26,1036.16 975.26,1050.25 963.60,1057.29 951.95,1050.25 951.95,1036.16 963.60,1029.12" fill="#1ae6ff" stroke="#1ae6ff"/>
<polygon points="975.26,993.91 975.26,1008.00 963.60,1015.04 951.95,1008.00 951.95,993.91 963.60,986.87" fill="#33ccff" stroke="#33ccff"/>
<polygon points="975.26,951.66 975.26,965.75 963.60,972.79 951.95,965.75 951.95,951.66 963.60,944.62" fill="#59a6ff" stroke="#59a6ff"/>
<polygon points="975.26,909.41 975.26,923.50 963.60,930.54 951.95,923.50 951.95,909.41 963.60,902.37" fill="#59a6ff" stroke="#59a6ff"/>
<polygon points="975.26,867.16 975.26,881.25 963.60,888.29 951.95,881.25 951.95,867.16 963.60,860.12" fill="#bf40ff" stroke="#bf40ff"/>
<polygon points="975.26,824.91 975.26,839.00 963.60,846.04 951.95,839.00 951.95,824.91 963.60,817.87" fill="#ff00ff" stroke="#ff00ff"/>
<polygon points="975.26,782.66 975.26,796.75 963.60,803.79 951.95,796.75 951.95,782.66 963.60,775.62" fill="#e619ff" stroke="#e619ff"/>
<polygon points="975.26,740.41 975.26,754.50 963.60,761.54 951.95,754.50 951.95,740.41 963.60,733.37" fill="#a659ff" stroke="#a659ff"/>
<polygon points="975.26,698.16 975.26,712.25 963.60,719.29 951.95,712.25 951.95,698.16 963.60,691.12" fill="#9966ff" stroke="#9966ff"/>
<polygon points="975.26,655.91 975.26,670.00 963.60,677.04 951.95,670.00 951.95,655.91 963.60,648.87" fill="#8080ff" stroke="#8080ff"/>
<polygon points="975.26,613.66 975.26,627.75 963.60,634.79 951.95,627.75 951.95,613.66 963.60,606.62" fill="#738cff" stroke="#738cff"/>
<polygon points="975.26,571.41 975.26,585.50 963.60,592.54 951.95,585.50 951.95,571.41 963.60,564.37" fill="#33ccff" stroke="#33ccff"/>
<polygon points="975.26,529.16 975.26,543.25 963.60,550.29 951.95,543.25 951.95,529.16 963.60,522.12" fill="#738cff" stroke="#738cff"/>
<polygon points="975.26,486.91 975.26,501.00 963.60,508.04 951.95,501.00 951.95,486.91 963.60,479.87" fill="#33ccff" stroke="#33ccff"/>
<polygon points="998.57,1289.66 998.57,1303.75 986.91,1310.79 975.26,1303.75 975.26,1289.66 986.91,1282.62" fill="#00ffff" stroke="#00ffff"/>
<polygon points="998.57,1162.91 998.57,1177.00 986.91,1184.04 975.26,1177.00 975.26,1162.91 986.91,1155.87" fill="#00ffff" stroke="#00ffff"/>
<polygon points="998.57,1120.66 998.57,1134.75 986.91,1141.79 975.26,1134.75 975.26,1120.66 986.91,1113.62" fill="#00ffff" stroke="#00ffff"/>
<polygon points="998.57,993.91 998.57,1008.00 986.91,1015.04 975.26,1008.00 975.26,993.91 986.91,986.87" fill="#33ccff" stroke="#33ccff"/>
<polygon points="998.57,951.66 998.57,965.75 986.91,972.79 975.26,965.75 975.26,951.66 986.91,944.62" fill="#33ccff" stroke="#33ccff"/>
<polygon points="998.57,909.41 998.57,923.50 986.91,930.54 975.26,923.50 975.26,909.41 986.91,902.37" fill="#4cb2ff" stroke="#4cb2ff"/>
<polygon points="998.57,867.16 998.57,881.25 986.91,888.29 975.26,881.25 975.26,867.16 986.91,860.12" fill="#4cb2ff" stroke="#4cb2ff"/>
<polygon points="998.57,824.91 998.57,839.00 986.91,846.04 975.26,839.00 975.26,824.91 986.91,817.87" fill="#8c73ff" stroke="#8c73ff"/>
<polygon points="998.57,782.66 998.57,796.75 986.91,803.79 975.26,796.75 975.26,782.66 986.91,775.62" fill="#738cff" stroke="#738cff"/>
<polygon points="998.57,740.41 998.57,754.50 986.91,761.54 975.26,754.50 975.26,740.41 986.91,733.37" fill="#bf40ff" stroke="#bf40ff"/>
<polygon points="998.57,698.16 998.57,712.25 986.91,719.29 975.26,712.25 975.26,698.16 986.91,691.12" fill="#8080ff" stroke="#8080ff"/>
<polygon points="998.57,655.91 998.57,670.00 986.91,677.04 975.26,670.00 975.26,655.91 986.91,648.87" fill="#8c73ff" stroke="#8c73ff"/>
<polygon points="998.57,613.66 998.57,627.75 986.91,634.79 975.26,627.75 975.26,613.66 986.91,606.62" fill="#9966ff" stroke="#9966ff"/>
<polygon points="998.57,571.41 998.57,585.50 986.91,592.54 975.26,585.50 975.26,571.41 986.91,564.37" fill="#8080ff" stroke="#8080ff"/>
<polygon points="998.57,529.16 998.57,543.25 986.91,550.29 975.26,543.25 975.26,529.16 986.91,522.12" fill="#33ccff" stroke="#33ccff"/>
<polygon points="1021.88,1247.41 1021.88,1261.50 1010.22,1268.54 998.57,1261.50 998.57,1247.41 1010.22,1240.37" fill="#00ffff" stroke="#00ffff"/>
<polygon points="1021.88,909.41 1021.88,923.50 1010.22,930.54 998.57,923.50 998.57,909.41 1010.22,902.37" fill="#59a6ff" stroke="#59a6ff"/>
<polygon points="1021.88,867.16 1021.88,881.25 1010.22,888.29 998.57,881.25 998.57,867.16 1010.22,860.12" fill="#6699ff" stroke="#6699ff"/>
<polygon points="1021.88,824.91 1021.88,839.00 1010.22,846.04 998.57,839.00 998.57,824.91 1010.22,817.87" fill="#4cb2ff" stroke="#4cb2ff"/>
<polygon points="1021.88,782.66 1021.88,796.75 1010.22,803.79 998.57,796.75 998.57,782.66 1010.22,775.62" fill="#33ccff" stroke="#33ccff"/>
<polygon points="1021.88,740.41 1021.88,754.50 1010.22,761.54 998.57,754.50 998.57,740.41 1010.22,733.37" fill="#8080ff" stroke="#8080ff"/>
<polygon points="1021.88,698.16 1021.88,712.25 1010.22,719.29 998.57,712.25 998.57,698.16 1010.22,691.12" fill="#59a6ff" stroke="#59a6ff"/>
<polygon points="1021.88,655.91 1021.88,670.00 1010.22,677.04 998.57,670.00 998.57,655.91 1010.22,648.87" fill="#6699ff" stroke="#6699ff"/>
<polygon points="1021.88,613.66 1021.88,627.75 1010.22,634.79 998.57,627.75 998.57,613.66 1010.22,606.62" fill="#8080ff" stroke="#8080ff"/>
<polygon points="1021.88,571.41 1021.88,585.50 1010.22,592.54 998.57,585.50 998.57,571.41 1010.22,564.37" fill="#59a6ff" stroke="#59a6ff"/>
<polygon points="1045.19,951.66 1045.19,965.75 1033.54,972.79 1021.88,965.75 1021.88,951.66 1033.54,944.62" fill="#00ffff" stroke="#00ffff"/>
<polygon points="1045.19,867.16 1045.19,881.25 1033.54,888.29 1021.88,881.25 1021.88,867.16 1033.54,860.12" fill="#6699ff" stroke="#6699ff"/>
<polygon points="1045.19,824.91 1045.19,839.00 1033.54,846.04 1021.88,839.00 1021.88,824.91 1033.54,817.87" fill="#8080ff" stroke="#8080ff"/>
<polygon points="1045.19,782.66 1045.19,796.75 1033.54,803.79 1021.88,796.75 1021.88,782.66 1033.54,775.62" fill="#738cff" stroke="#738cff"/>
<polygon points="1045.19,740.41 1045.19,754.50 1033.54,761.54 1021.88,754.50 1021.88,740.41 1033.54,733.37" fill="#4cb2ff" stroke="#4cb2ff"/>
<polygon points="1045.19,698.16 1045.19,712.25 1033.54,719.29 1021.88,712.25 1021.88,698.16 1033.54,691.12" fill="#40bfff" stroke="#40bfff"/>
<polygon points="1045.19,655.91 1045.19,670.00 1033.54,677.04 1021.88,670.00 1021.88,655.91 1033.54,648.87" fill="#00ffff" stroke="#00ffff"/>
<polygon points="1045.19,613.66 1045.19,627.75 1033.54,634.79 1021.88,627.75 1021.88,613.66 1033.54,606.62" fill="#738cff" stroke="#738cff"/>
<polygon points="1045.19,571.41 1045.19,585.50 1033.54,592.54 1021.88,585.50 1021.88,571.41 1033.54,564.37" fill="#8c73ff" stroke="#8c73ff"/>
<polygon points="1045.19,529.16 1045.19,543.25 1033.54,550.29 1021.88,543.25 1021.88,529.16 1033.54,522.12" fill="#00ffff" stroke="#00ffff"/>
<polygon points="1068.50,824.91 1068.50,839.00 1056.85,846.04 1045.19,839.00 1045.19,824.91 1056.85,817.87" fill="#8c73ff" stroke="#8c73ff"/>
<polygon points="1068.50,782.66 1068.50,796.75 1056.85,803.79 1045.19,796.75 1045.19,782.66 1056.85,775.62" fill="#8080ff" stroke="#8080ff"/>
<polygon points="1068.50,740.41 1068.50,754.50 1056.85,761.54 1045.19,754.50 1045.19,740.41 1056.85,733.37" fill="#6699ff" stroke="#6699ff"/>
<polygon points="1068.50,698.16 1068.50,712.25 1056.85,719.29 1045.19,712.25 1045.19,698.16 1056.85,691.12" fill="#40bfff" stroke="#40bfff"/>
<polygon points="1068.50,655.91 1068.50,670.00 1056.85,677.04 1045.19,670.00 1045.19,655.91 1056.85,648.87" fill="#00ffff" stroke="#00ffff"/>
<polygon points="1068.50,613.66 1068.50,627.75 1056.85,634.79 1045.19,627.75 1045.19,613.66 1056.85,606.62" fill="#738cff" stroke="#738cff"/>
<polygon points="1068.50,571.41 1068.50,585.50 1056.85,592.54 1045.19,585.50 1045.19,571.41 1056.85,564.37" fill="#738cff" stroke="#738cff"/>
<polygon points="1068.50,529.16 1068.50,543.25 1056.85,550.29 1045.19,543.25 1045.19,529.16 1056.85,522.12" fill="#1ae6ff" stroke="#1ae6ff"/>
<polygon points="1091.81,824.91 1091.81,839.00 1080.16,846.04 1068.50,839.00 1068.50,824.91 1080.16,817.87" fill="#00ffff" stroke="#00ffff"/>
<polygon points="1091.81,698.16 1091.81,712.25 1080.16,719.29 1068.50,712.25 1068.50,698.16 1080.16,691.12" fill="#40bfff" stroke="#40bfff"/>
<polygon points="1091.81,655.91 1091.81,670.00 1080.16,677.04 1068.50,670.00 1068.50,655.91 1080.16,648.87" fill="#1ae6ff" stroke="#1ae6ff"/>
<polygon points="1091.81,613.66 1091.81,627.75 1080.16,634.79 1068.50,627.75 1068.50,613.66 1080.16,606.62" fill="#00ffff" stroke="#00ffff"/>
<polygon points="1091.81,571.41 1091.81,585.50 1080.16,592.54 1068.50,585.50 1068.50,571.41 1080.16,564.37" fill="#59a6ff" stroke="#59a6ff"/>
<polygon points="1091.81,529.16 1091.81,543.25 1080.16,550.29 1068.50,543.25 1068.50,529.16 1080.16,522.12" fill="#738cff" stroke="#738cff"/>
<polygon points="1091.81,486.91 1091.81,501.00 1080.16,508.04 1068.50,501.00 1068.50,486.91 1080.16,479.87" fill="#00ffff" stroke="#00ffff"/>
<polygon points="1091.81,402.41 1091.81,416.50 1080.16,423.54 1068.50,416.50 1068.50,402.41 1080.16,395.37" fill="#00ffff" stroke="#00ffff"/>
<polygon points="1115.12,571.41 1115.12,585.50 1103.47,592.54 1091.81,585.50 1091.81,571.41 1103.47,564.37" fill="#8080ff" stroke="#8080ff"/>
<polygon points="1115.12,529.16 1115.12,543.25 1103.47,550.29 1091.81,543.25 1091.81,529.16 1103.47,522.12" fill="#33ccff" stroke="#33ccff"/>
<polygon points="1115.12,486.91 1115.12,501.00 1103.47,508.04 1091.81,501.00 1091.81,486.91 1103.47,479.87" fill="#00ffff" stroke="#00ffff"/>
<polygon points="1138.44,655.91 1138.44,670.00 1126.78,677.04 1115.12,670.00 1115.12,655.91 1126.78,648.87" fill="#00ffff" stroke="#00ffff"/>
<polygon points="1138.44,613.66 1138.44,627.75 1126.78,634.79 1115.12,627.75 1115.12,613.66 1126.78,606.62" fill="#00ffff" stroke="#00ffff"/>
<polygon points="1138.44,571.41 1138.44,585.50 1126.78,592.54 1115.12,585.50 1115.12,571.41 1126.78,564.37" fill="#59a6ff" stroke="#59a6ff"/>
<polygon points="1138.44,529.16 1138.44,543.25 1126.78,550.29 1115.12,543.25 1115.12,529.16 1126.78,522.12" fill="#33ccff" stroke="#33ccff"/>
<polygon points="1161.75,613.66 1161.75,627.75 1150.09,634.79 1138.44,627.75 1138.44,613.66 1150.09,606.62" fill="#1ae6ff" stroke="#1ae6ff"/>
<polygon points="1161.75,571.41 1161.75,585.50 1150.09,592.54 1138.44,585.50 1138.44,571.41 1150.09,564.37" fill="#00ffff" stroke="#00ffff"/>
<polygon points="1161.75,529.16 1161.75,543.25 1150.09,550.29 1138.44,543.25 1138.44,529.16 1150.09,522.12" fill="#26d9ff" stroke="#26d9ff"/>
<polygon points="1185.06,571.41 1185.06,585.50 1173.40,592.54 1161.75,585.50 1161.75,571.41 1173.40,564.37" fill="#00ffff" stroke="#00ffff"/>
<polygon points="1185.06,529.16 1185.06,543.25 1173.40,550.29 1161.75,543.25 1161.75,529.16 1173.40,522.12" fill="#33ccff" stroke="#33ccff"/>
<polygon points="1208.37,571.41 1208.37,585.50 1196.71,592.54 1185.06,585.50 1185.06,571.41 1196.71,564.37" fill="#00ffff" stroke="#00ffff"/>
<polygon points="1208.37,529.16 1208.37,543.25 1196.71,550.29 1185.06,543.25 1185.06,529.16 1196.71,522.12" fill="#33ccff" stroke="#33ccff"/>
<polygon points="1208.37,486.91 1208.37,501.00 1196.71,508.04 1185.06,501.00 1185.06,486.91 1196.71,479.87" fill="#00ffff" stroke="#00ffff"/>
<polygon points="1231.68,486.91 1231.68,501.00 1220.02,508.04 1208.37,501.00 1208.37,486.91 1220.02,479.87" fill="#1ae6ff" stroke="#1ae6ff"/>
<polygon points="1254.99,486.91 1254.99,501.00 1243.34,508.04 1231.68,501.00 1231.68,486.91 1243.34,479.87" fill="#1ae6ff" stroke="#1ae6ff"/>
<polygon points="1278.30,486.91 1278.30,501.00 1266.65,508.04 1254.99,501.00 1254.99,486.91 1266.65,479.87" fill="#00ffff" stroke="#00ffff"/>
<polygon points="1301.61,444.66 1301.61,458.75 1289.96,465.79 1278.30,458.75 1278.30,444.66 1289.96,437.62" fill="#00ffff" stroke="#00ffff"/>
<polygon points="1324.93,486.91 1324.93,501.00 1313.27,508.04 1301.61,501.00 1301.61,486.91 1313.27,479.87" fill="#00ffff" stroke="#00ffff"/>
</g>
<g fill="none" stroke-width="4.17" stroke-dasharray="15.42 6.67">
<path d="M952.90 1630.40V329.70" stroke="#808080"/>
<path d="M194.47 484.90H1477.40" stroke="#808080"/>
<path d="M1042.00 1630.40V329.70" stroke="#008000"/>
<path d="M194.47 590.90H1477.40" stroke="#008000"/>
<path d="M890.90 1630.40V329.70" stroke="#87ceeb"/>
<path d="M194.47 912.70H1477.40" stroke="#87ceeb"/>
<path d="M788.00 1630.40V329.70" stroke="#ffa500"/>
<path d="M194.47 873.00H1477.40" stroke="#ffa500"/>
<path d="M340.00 1630.40V329.70" stroke="#ffc0cb"/>
<path d="M194.47 1405.90H1477.40" stroke="#ffc0cb"/>
<path d="M492.90 1630.40V329.70" stroke="#ee82ee"/>
<path d="M194.47 1329.90H1477.40" stroke="#ee82ee"/>
<path d="M616.90 1630.40V329.70" stroke="#a52a2a"/>
<path d="M194.47 1078.80H1477.40" stroke="#a52a2a"/>
<path d="M750.90 1630.40V329.70" stroke="#0000ff"/>
<path d="M194.47 956.00H1477.40" stroke="#0000ff"/>
<path d="M926.90 1630.40V329.70" stroke="#ff0000"/>
<path d="M194.47 799.00H1477.40" stroke="#ff0000"/>
</g>
<g fill="#5799c7" stroke="#000000" stroke-width="2.05" stroke-linejoin="miter">
<rect x="252.61" y="283.74" width="21.58" height="0.70"/>
<rect x="274.19" y="283.94" width="21.58" height="0.50"/>
<rect x="295.78" y="280.04" width="21.58" height="4.40"/>
<rect x="317.36" y="280.34" width="21.58" height="4.10"/>
<rect x="338.95" y="274.14" width="21.58" height="10.30"/>
<rect x="360.53" y="267.14" width="21.58" height="17.30"/>
<rect x="382.12" y="281.14" width="21.58" height="3.30"/>
<rect x="403.70" y="274.14" width="21.58" height="10.30"/>
<rect x="425.29" y="282.04" width="21.58" height="2.40"/>
<rect x="446.87" y="282.64" width="21.58" height="1.80"/>
<rect x="468.45" y="282.84" width="21.58" height="1.60"/>
<rect x="490.04" y="277.14" width="21.58" height="7.30"/>
<rect x="511.62" y="264.04" width="21.58" height="20.40"/>
<rect x="533.21" y="248.04" width="21.58" height="36.40"/>
<rect x="554.79" y="220.04" width="21.58" height="64.40"/>
<rect x="576.38" y="113.04" width="21.58" height="171.40"/>
<rect x="597.96" y="227.04" width="21.58" height="57.40"/>
<rect x="619.55" y="228.14" width="21.58" height="56.30"/>
<rect x="641.13" y="244.14" width="21.58" height="40.30"/>
<rect x="662.71" y="270.34" width="21.58" height="14.10"/>
<rect x="684.30" y="256.34" width="21.58" height="28.10"/>
<rect x="705.88" y="244.14" width="21.58" height="40.30"/>
<rect x="727.47" y="207.04" width="21.58" height="77.40"/>
<rect x="749.05" y="224.14" width="21.58" height="60.30"/>
<rect x="770.64" y="247.14" width="21.58" height="37.30"/>
<rect x="792.22" y="240.04" width="21.58" height="44.40"/>
<rect x="813.81" y="118.04" width="21.58" height="166.40"/>
<rect x="835.39" y="239.14" width="21.58" height="45.30"/>
<rect x="856.97" y="207.84" width="21.58" height="76.60"/>
<rect x="878.56" y="205.34" width="21.58" height="79.10"/>
<rect x="900.14" y="126.14" width="21.58" height="158.30"/>
<rect x="921.73" y="103.34" width="21.58" height="181.10"/>
<rect x="943.31" y="83.14" width="21.58" height="201.30"/>
<rect x="964.90" y="70.84" width="21.58" height="213.60"/>
<rect x="986.48" y="247.14" width="21.58" height="37.30"/>
<rect x="1008.07" y="252.14" width="21.58" height="32.30"/>
<rect x="1029.65" y="253.04" width="21.58" height="31.40"/>
<rect x="1051.23" y="260.04" width="21.58" height="24.40"/>
<rect x="1072.82" y="275.24" width="21.58" height="9.20"/>
<rect x="1094.40" y="280.44" width="21.58" height="4.00"/>
<rect x="1115.99" y="280.04" width="21.58" height="4.40"/>
<rect x="1137.57" y="281.64" width="21.58" height="2.80"/>
<rect x="1159.16" y="282.64" width="21.58" height="1.80"/>
<rect x="1180.74" y="282.84" width="21.58" height="1.60"/>
<rect x="1202.33" y="283.64" width="21.58" height="0.80"/>
<rect x="1223.91" y="283.94" width="21.58" height="0.50"/>
<rect x="1245.49" y="284.04" width="21.58" height="0.40"/>
<rect x="1267.08" y="284.14" width="21.58" height="0.30"/>
<rect x="1288.66" y="284.14" width="21.58" height="0.30"/>
<rect x="1310.25" y="284.24" width="21.58" height="0.20"/>
<rect x="1331.83" y="284.24" width="21.58" height="0.20"/>
<rect x="1353.42" y="284.24" width="21.58" height="0.20"/>
<rect x="1375.00" y="284.24" width="21.58" height="0.20"/>
<rect x="1396.59" y="284.24" width="21.58" height="0.20"/>
</g>
<g fill="#5799c7" stroke="#000000" stroke-width="1.30" stroke-linejoin="miter">
<rect x="1521.47" y="1557.89" width="0.30" height="13.44"/>
<rect x="1521.47" y="1544.44" width="0.20" height="13.44"/>
<rect x="1521.47" y="1531.00" width="0.20" height="13.44"/>
<rect x="1521.47" y="1517.56" width="0.30" height="13.44"/>
<rect x="1521.47" y="1504.11" width="0.30" height="13.44"/>
<rect x="1521.47" y="1490.67" width="0.50" height="13.44"/>
<rect x="1521.47" y="1477.23" width="0.50" height="13.44"/>
<rect x="1521.47" y="1463.78" width="0.30" height="13.44"/>
<rect x="1521.47" y="1450.34" width="2.00" height="13.44"/>
<rect x="1521.47" y="1436.90" width="0.50" height="13.44"/>
<rect x="1521.47" y="1423.45" width="6.00" height="13.44"/>
<rect x="1521.47" y="1410.01" width="21.00" height="13.44"/>
<rect x="1521.47" y="1396.57" width="13.00" height="13.44"/>
<rect x="1521.47" y="1383.13" width="16.00" height="13.44"/>
<rect x="1521.47" y="1369.68" width="13.90" height="13.44"/>
<rect x="1521.47" y="1356.24" width="3.90" height="13.44"/>
<rect x="1521.47" y="1342.80" width="0.80" height="13.44"/>
<rect x="1521.47" y="1329.35" width="1.00" height="13.44"/>
<rect x="1521.47" y="1315.91" width="1.00" height="13.44"/>
<rect x="1521.47" y="1302.47" width="6.00" height="13.44"/>
<rect x="1521.47" y="1289.02" width="6.00" height="13.44"/>
<rect x="1521.47" y="1275.58" width="9.00" height="13.44"/>
<rect x="1521.47" y="1262.14" width="6.00" height="13.44"/>
<rect x="1521.47" y="1248.69" width="15.00" height="13.44"/>
<rect x="1521.47" y="1235.25" width="39.00" height="13.44"/>
<rect x="1521.47" y="1221.81" width="13.90" height="13.44"/>
<rect x="1521.47" y="1208.36" width="13.00" height="13.44"/>
<rect x="1521.47" y="1194.92" width="4.90" height="13.44"/>
<rect x="1521.47" y="1181.48" width="8.00" height="13.44"/>
<rect x="1521.47" y="1168.03" width="9.90" height="13.44"/>
<rect x="1521.47" y="1154.59" width="3.90" height="13.44"/>
<rect x="1521.47" y="1141.15" width="11.00" height="13.44"/>
<rect x="1521.47" y="1127.70" width="17.00" height="13.44"/>
<rect x="1521.47" y="1114.26" width="11.90" height="13.44"/>
<rect x="1521.47" y="1100.82" width="97.00" height="13.44"/>
<rect x="1521.47" y="1087.38" width="58.00" height="13.44"/>
<rect x="1521.47" y="1073.93" width="21.90" height="13.44"/>
<rect x="1521.47" y="1060.49" width="76.00" height="13.44"/>
<rect x="1521.47" y="1047.05" width="69.00" height="13.44"/>
<rect x="1521.47" y="1033.60" width="64.00" height="13.44"/>
<rect x="1521.47" y="1020.16" width="34.90" height="13.44"/>
<rect x="1521.47" y="1006.72" width="75.00" height="13.44"/>
<rect x="1521.47" y="993.27" width="88.00" height="13.44"/>
<rect x="1521.47" y="979.83" width="75.00" height="13.44"/>
<rect x="1521.47" y="966.39" width="69.00" height="13.44"/>
<rect x="1521.47" y="952.94" width="46.00" height="13.44"/>
<rect x="1521.47" y="939.50" width="148.00" height="13.44"/>
<rect x="1521.47" y="926.06" width="121.00" height="13.44"/>
<rect x="1521.47" y="912.61" width="116.00" height="13.44"/>
<rect x="1521.47" y="899.17" width="135.00" height="13.44"/>
<rect x="1521.47" y="885.73" width="210.20" height="13.44"/>
<rect x="1521.47" y="872.28" width="128.90" height="13.44"/>
<rect x="1521.47" y="858.84" width="157.20" height="13.44"/>
<rect x="1521.47" y="845.40" width="125.90" height="13.44"/>
<rect x="1521.47" y="831.95" width="161.00" height="13.44"/>
<rect x="1521.47" y="818.51" width="74.00" height="13.44"/>
<rect x="1521.47" y="805.07" width="51.00" height="13.44"/>
<rect x="1521.47" y="791.63" width="65.00" height="13.44"/>
<rect x="1521.47" y="778.18" width="55.00" height="13.44"/>
<rect x="1521.47" y="764.74" width="72.00" height="13.44"/>
<rect x="1521.47" y="751.30" width="54.00" height="13.44"/>
<rect x="1521.47" y="737.85" width="47.00" height="13.44"/>
<rect x="1521.47" y="724.41" width="33.90" height="13.44"/>
<rect x="1521.47" y="710.97" width="46.00" height="13.44"/>
<rect x="1521.47" y="697.52" width="17.90" height="13.44"/>
<rect x="1521.47" y="684.08" width="31.90" height="13.44"/>
<rect x="1521.47" y="670.64" width="16.00" height="13.44"/>
<rect x="1521.47" y="657.19" width="13.00" height="13.44"/>
<rect x="1521.47" y="643.75" width="13.90" height="13.44"/>
<rect x="1521.47" y="630.31" width="20.00" height="13.44"/>
<rect x="1521.47" y="616.86" width="19.00" height="13.44"/>
<rect x="1521.47" y="603.42" width="26.20" height="13.44"/>
<rect x="1521.47" y="589.98" width="24.00" height="13.44"/>
<rect x="1521.47" y="576.53" width="18.00" height="13.44"/>
<rect x="1521.47" y="563.09" width="15.00" height="13.44"/>
<rect x="1521.47" y="549.65" width="11.00" height="13.44"/>
<rect x="1521.47" y="536.20" width="6.00" height="13.44"/>
<rect x="1521.47" y="522.76" width="4.90" height="13.44"/>
<rect x="1521.47" y="509.32" width="3.20" height="13.44"/>
<rect x="1521.47" y="495.88" width="2.00" height="13.44"/>
<rect x="1521.47" y="482.43" width="2.00" height="13.44"/>
<rect x="1521.47" y="468.99" width="1.40" height="13.44"/>
<rect x="1521.47" y="455.55" width="0.50" height="13.44"/>
<rect x="1521.47" y="442.10" width="0.30" height="13.44"/>
<rect x="1521.47" y="428.66" width="0.30" height="13.44"/>
<rect x="1521.47" y="415.22" width="0.20" height="13.44"/>
<rect x="1521.47" y="401.77" width="0.20" height="13.44"/>
<rect x="1521.47" y="388.33" width="0.20" height="13.44"/>
</g>
<g fill="none" stroke="#000000" stroke-width="3.333" stroke-linecap="square">
<path d="M194.47 1630.40V329.70"/>
<path d="M194.47 1630.40H1477.40"/>
<path d="M194.47 284.44V60.60"/>
<path d="M194.47 284.44H1477.40"/>
<path d="M1521.47 1630.40V329.70"/>
<path d="M1521.47 1630.40H1742.40"/>
</g>
<g fill="none" stroke="#000000" stroke-width="3.333" stroke-linecap="butt">
<path d="M242.50 1630.40v15.00"/>
<path d="M242.50 284.44v15.00"/>
<path d="M406.47 1630.40v15.00"/>
<path d="M406.47 284.44v15.00"/>
<path d="M570.44 1630.40v15.00"/>
<path d="M570.44 284.44v15.00"/>
<path d="M734.41 1630.40v15.00"/>
<path d="M734.41 284.44v15.00"/>
<path d="M898.39 1630.40v15.00"/>
<path d="M898.39 284.44v15.00"/>
<path d="M1062.36 1630.40v15.00"/>
<path d="M1062.36 284.44v15.00"/>
<path d="M1226.33 1630.40v15.00"/>
<path d="M1226.33 284.44v15.00"/>
<path d="M1390.30 1630.40v15.00"/>
<path d="M1390.30 284.44v15.00"/>
<path d="M194.47 1603.44h-15.00"/>
<path d="M1521.47 1603.44h-15.00"/>
<path d="M194.47 1383.35h-15.00"/>
<path d="M1521.47 1383.35h-15.00"/>
<path d="M194.47 1163.26h-15.00"/>
<path d="M1521.47 1163.26h-15.00"/>
<path d="M194.47 943.18h-15.00"/>
<path d="M1521.47 943.18h-15.00"/>
<path d="M194.47 723.09h-15.00"/>
<path d="M1521.47 723.09h-15.00"/>
<path d="M194.47 503.00h-15.00"/>
<path d="M1521.47 503.00h-15.00"/>
<path d="M194.47 284.44h-15.00"/>
<path d="M194.47 150.30h-15.00"/>
<path d="M1521.47 1630.40v15.00"/>
<path d="M1721.53 1630.40v15.00"/>
</g>
<g font-family='"Liberation Sans", "IPAGothic", sans-serif' font-size="46.40" letter-spacing="0.3" fill="#000000" stroke="#ffffff" stroke-width="0.9" paint-order="fill stroke">
<text x="242.80" y="1692.7" text-anchor="middle">120</text>
<text x="406.77" y="1692.7" text-anchor="middle">125</text>
<text x="570.74" y="1692.7" text-anchor="middle">130</text>
<text x="734.71" y="1692.7" text-anchor="middle">135</text>
<text x="898.69" y="1692.7" text-anchor="middle">140</text>
<text x="1062.66" y="1692.7" text-anchor="middle">145</text>
<text x="1226.63" y="1692.7" text-anchor="middle">150</text>
<text x="1390.60" y="1692.7" text-anchor="middle">155</text>
<text x="165.4" y="1619.74" text-anchor="end">20</text>
<text x="165.4" y="1399.65" text-anchor="end">25</text>
<text x="165.4" y="1179.56" text-anchor="end">30</text>
<text x="165.4" y="959.48" text-anchor="end">35</text>
<text x="165.4" y="739.39" text-anchor="end">40</text>
<text x="165.4" y="519.30" text-anchor="end">45</text>
<text x="165.4" y="166.60" text-anchor="end">1000</text>
<text x="165.4" y="300.74" text-anchor="end">0</text>
<text x="1521.77" y="1692.7" text-anchor="middle">0</text>
<text x="1721.83" y="1692.7" text-anchor="middle">1000</text>
</g>
<g font-family='"Liberation Sans", "IPAGothic", sans-serif' font-size="41.67" fill="#000000">
<text x="835.0" y="1748.5" text-anchor="middle">経度</text>
<text transform="translate(88.5 982.5) rotate(-90)" text-anchor="middle">緯度</text>
</g>
</svg>
</body></html>
